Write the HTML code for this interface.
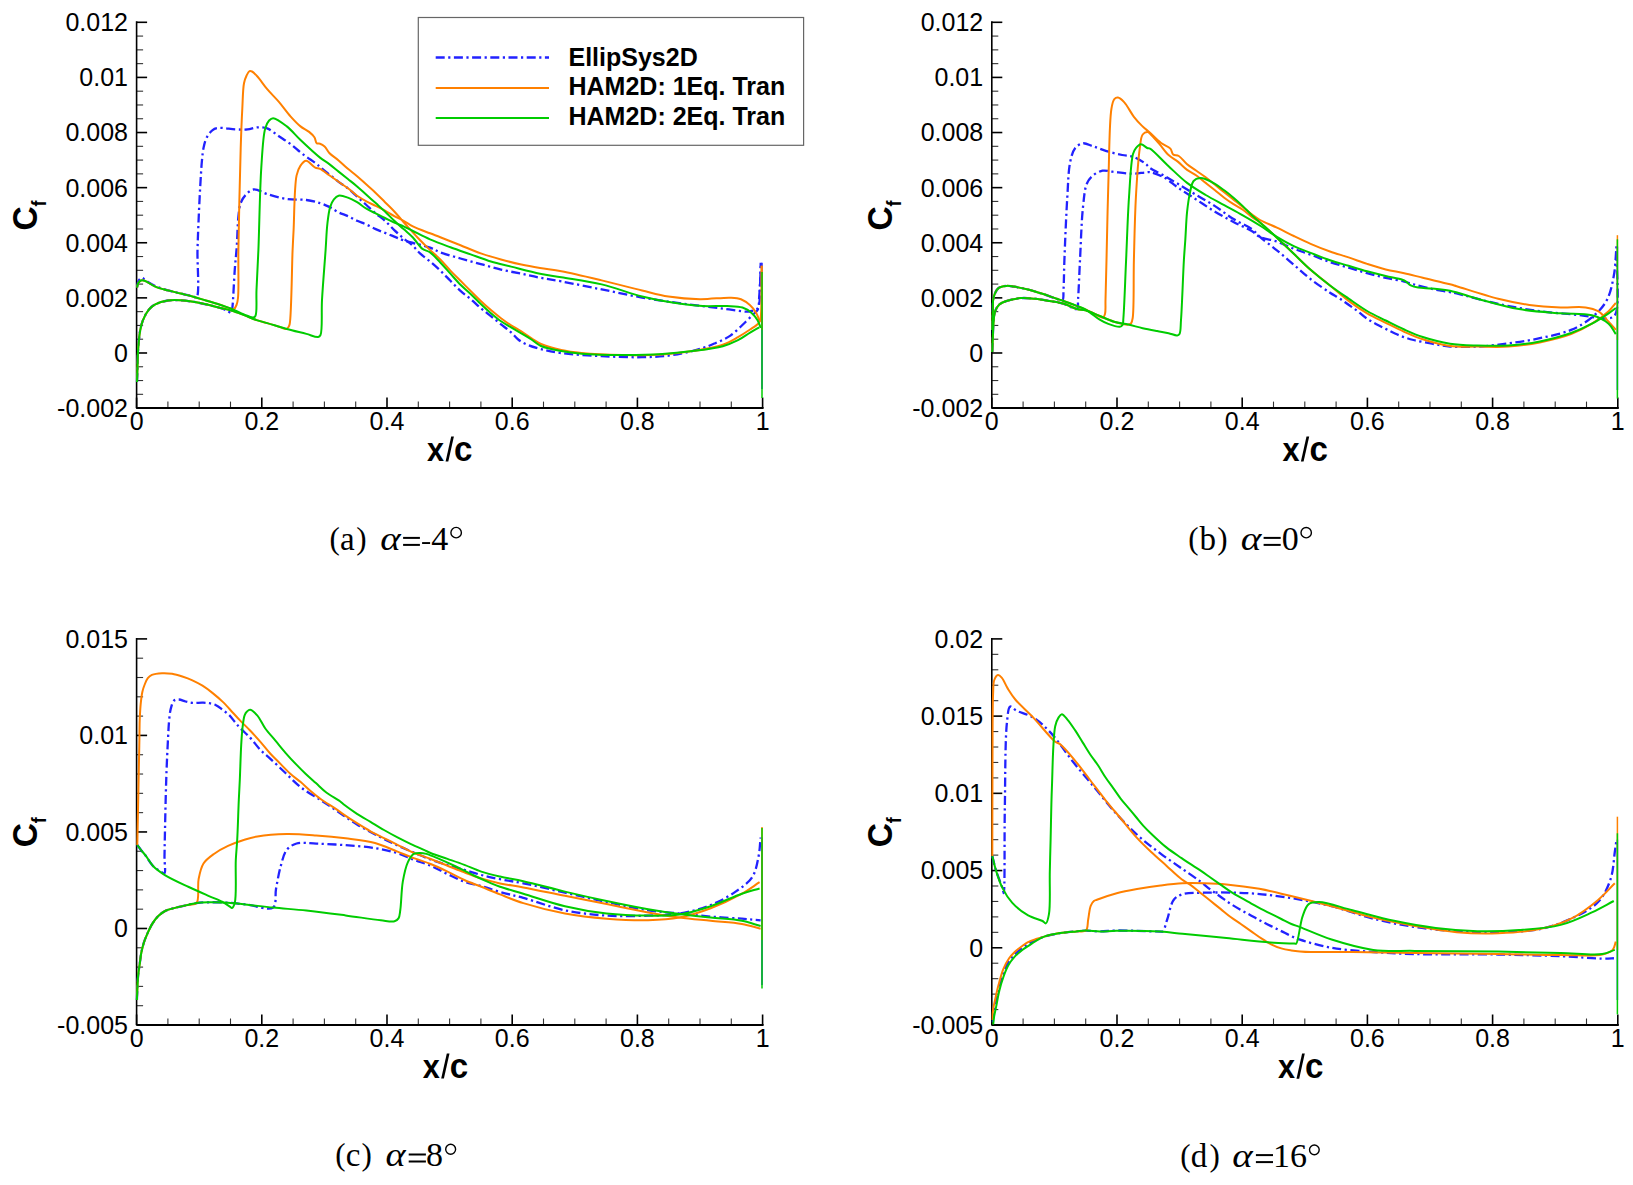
<!DOCTYPE html>
<html><head><meta charset="utf-8"><style>
html,body{margin:0;padding:0;background:#fff;}
svg{display:block;}
.tk{font-family:"Liberation Sans",sans-serif;font-size:25px;fill:#000;}
.lab{font-family:"Liberation Sans",sans-serif;font-weight:bold;font-size:34px;fill:#000;}
.sub{font-size:19.5px;}
.leg{font-family:"Liberation Sans",sans-serif;font-weight:bold;font-size:25px;fill:#000;}
.cap{font-family:"Liberation Serif",serif;font-size:33px;fill:#000;}
.it{font-style:italic;}
</style></head><body>
<svg width="1633" height="1185" viewBox="0 0 1633 1185">
<rect width="1633" height="1185" fill="#fff"/>
<line x1="136.60" y1="408.10" x2="147.10" y2="408.10" stroke="#000" stroke-width="1.6"/>
<line x1="136.60" y1="394.32" x2="143.10" y2="394.32" stroke="#333" stroke-width="1.1"/>
<line x1="136.60" y1="380.54" x2="143.10" y2="380.54" stroke="#333" stroke-width="1.1"/>
<line x1="136.60" y1="366.76" x2="143.10" y2="366.76" stroke="#333" stroke-width="1.1"/>
<line x1="136.60" y1="352.99" x2="147.10" y2="352.99" stroke="#000" stroke-width="1.6"/>
<line x1="136.60" y1="339.21" x2="143.10" y2="339.21" stroke="#333" stroke-width="1.1"/>
<line x1="136.60" y1="325.43" x2="143.10" y2="325.43" stroke="#333" stroke-width="1.1"/>
<line x1="136.60" y1="311.65" x2="143.10" y2="311.65" stroke="#333" stroke-width="1.1"/>
<line x1="136.60" y1="297.87" x2="147.10" y2="297.87" stroke="#000" stroke-width="1.6"/>
<line x1="136.60" y1="284.09" x2="143.10" y2="284.09" stroke="#333" stroke-width="1.1"/>
<line x1="136.60" y1="270.31" x2="143.10" y2="270.31" stroke="#333" stroke-width="1.1"/>
<line x1="136.60" y1="256.54" x2="143.10" y2="256.54" stroke="#333" stroke-width="1.1"/>
<line x1="136.60" y1="242.76" x2="147.10" y2="242.76" stroke="#000" stroke-width="1.6"/>
<line x1="136.60" y1="228.98" x2="143.10" y2="228.98" stroke="#333" stroke-width="1.1"/>
<line x1="136.60" y1="215.20" x2="143.10" y2="215.20" stroke="#333" stroke-width="1.1"/>
<line x1="136.60" y1="201.42" x2="143.10" y2="201.42" stroke="#333" stroke-width="1.1"/>
<line x1="136.60" y1="187.64" x2="147.10" y2="187.64" stroke="#000" stroke-width="1.6"/>
<line x1="136.60" y1="173.86" x2="143.10" y2="173.86" stroke="#333" stroke-width="1.1"/>
<line x1="136.60" y1="160.09" x2="143.10" y2="160.09" stroke="#333" stroke-width="1.1"/>
<line x1="136.60" y1="146.31" x2="143.10" y2="146.31" stroke="#333" stroke-width="1.1"/>
<line x1="136.60" y1="132.53" x2="147.10" y2="132.53" stroke="#000" stroke-width="1.6"/>
<line x1="136.60" y1="118.75" x2="143.10" y2="118.75" stroke="#333" stroke-width="1.1"/>
<line x1="136.60" y1="104.97" x2="143.10" y2="104.97" stroke="#333" stroke-width="1.1"/>
<line x1="136.60" y1="91.19" x2="143.10" y2="91.19" stroke="#333" stroke-width="1.1"/>
<line x1="136.60" y1="77.41" x2="147.10" y2="77.41" stroke="#000" stroke-width="1.6"/>
<line x1="136.60" y1="63.64" x2="143.10" y2="63.64" stroke="#333" stroke-width="1.1"/>
<line x1="136.60" y1="49.86" x2="143.10" y2="49.86" stroke="#333" stroke-width="1.1"/>
<line x1="136.60" y1="36.08" x2="143.10" y2="36.08" stroke="#333" stroke-width="1.1"/>
<line x1="136.60" y1="22.30" x2="147.10" y2="22.30" stroke="#000" stroke-width="1.6"/>
<text x="128.00" y="31.20" class="tk" text-anchor="end">0.012</text>
<text x="128.00" y="86.31" class="tk" text-anchor="end">0.01</text>
<text x="128.00" y="141.43" class="tk" text-anchor="end">0.008</text>
<text x="128.00" y="196.54" class="tk" text-anchor="end">0.006</text>
<text x="128.00" y="251.66" class="tk" text-anchor="end">0.004</text>
<text x="128.00" y="306.77" class="tk" text-anchor="end">0.002</text>
<text x="128.00" y="361.89" class="tk" text-anchor="end">0</text>
<text x="128.00" y="417.00" class="tk" text-anchor="end">-0.002</text>
<line x1="136.60" y1="408.10" x2="136.60" y2="397.60" stroke="#000" stroke-width="1.6"/>
<line x1="167.90" y1="408.10" x2="167.90" y2="401.60" stroke="#333" stroke-width="1.1"/>
<line x1="199.20" y1="408.10" x2="199.20" y2="401.60" stroke="#333" stroke-width="1.1"/>
<line x1="230.50" y1="408.10" x2="230.50" y2="401.60" stroke="#333" stroke-width="1.1"/>
<line x1="261.80" y1="408.10" x2="261.80" y2="397.60" stroke="#000" stroke-width="1.6"/>
<line x1="293.10" y1="408.10" x2="293.10" y2="401.60" stroke="#333" stroke-width="1.1"/>
<line x1="324.40" y1="408.10" x2="324.40" y2="401.60" stroke="#333" stroke-width="1.1"/>
<line x1="355.70" y1="408.10" x2="355.70" y2="401.60" stroke="#333" stroke-width="1.1"/>
<line x1="387.00" y1="408.10" x2="387.00" y2="397.60" stroke="#000" stroke-width="1.6"/>
<line x1="418.30" y1="408.10" x2="418.30" y2="401.60" stroke="#333" stroke-width="1.1"/>
<line x1="449.60" y1="408.10" x2="449.60" y2="401.60" stroke="#333" stroke-width="1.1"/>
<line x1="480.90" y1="408.10" x2="480.90" y2="401.60" stroke="#333" stroke-width="1.1"/>
<line x1="512.20" y1="408.10" x2="512.20" y2="397.60" stroke="#000" stroke-width="1.6"/>
<line x1="543.50" y1="408.10" x2="543.50" y2="401.60" stroke="#333" stroke-width="1.1"/>
<line x1="574.80" y1="408.10" x2="574.80" y2="401.60" stroke="#333" stroke-width="1.1"/>
<line x1="606.10" y1="408.10" x2="606.10" y2="401.60" stroke="#333" stroke-width="1.1"/>
<line x1="637.40" y1="408.10" x2="637.40" y2="397.60" stroke="#000" stroke-width="1.6"/>
<line x1="668.70" y1="408.10" x2="668.70" y2="401.60" stroke="#333" stroke-width="1.1"/>
<line x1="700.00" y1="408.10" x2="700.00" y2="401.60" stroke="#333" stroke-width="1.1"/>
<line x1="731.30" y1="408.10" x2="731.30" y2="401.60" stroke="#333" stroke-width="1.1"/>
<line x1="762.60" y1="408.10" x2="762.60" y2="397.60" stroke="#000" stroke-width="1.6"/>
<text x="136.60" y="430.00" class="tk" text-anchor="middle">0</text>
<text x="261.80" y="430.00" class="tk" text-anchor="middle">0.2</text>
<text x="387.00" y="430.00" class="tk" text-anchor="middle">0.4</text>
<text x="512.20" y="430.00" class="tk" text-anchor="middle">0.6</text>
<text x="637.40" y="430.00" class="tk" text-anchor="middle">0.8</text>
<text x="762.60" y="430.00" class="tk" text-anchor="middle">1</text>
<path d="M136.60 21.30 L136.60 408.10 L762.60 408.10" fill="none" stroke="#000" stroke-width="1.6" stroke-linejoin="round"/>
<line x1="137.10" y1="408.10" x2="763.60" y2="408.10" stroke="#000" stroke-width="2.0"/>
<text transform="translate(427.09 460.60) scale(0.900 1)" class="lab" style="font-size:34px">x</text>
<path d="M445.60 461.50 L448.30 461.50 L453.90 436.40 L451.20 436.40 Z" fill="#000"/>
<text transform="translate(454.11 460.90) scale(0.935 1)" class="lab" style="font-size:35.5px">c</text>
<g transform="translate(37.0 215.50) rotate(-90) scale(0.93 1)"><text x="0" y="0" class="lab" style="font-size:36px" text-anchor="middle"><tspan>C</tspan><tspan class="sub" dy="8.6">f</tspan></text></g>
<text x="329.44" y="548.60" class="cap" style="font-size:31px">(</text>
<text x="339.95" y="549.80" class="cap">a</text>
<text x="356.14" y="548.60" class="cap" style="font-size:31px">)</text>
<text transform="translate(380.13 549.80) scale(1.178 1)" class="cap it">&#945;</text>
<rect x="403.10" y="536.90" width="16.80" height="2.0" fill="#000"/>
<rect x="403.10" y="543.90" width="16.80" height="2.0" fill="#000"/>
<rect x="422.10" y="542.10" width="8.00" height="1.9" fill="#000"/>
<text x="431.33" y="549.80" class="cap" style="font-size:34px">4</text>
<circle cx="456.15" cy="532.65" r="5.25" fill="none" stroke="#000" stroke-width="1.4"/>
<line x1="991.80" y1="408.10" x2="1002.30" y2="408.10" stroke="#000" stroke-width="1.6"/>
<line x1="991.80" y1="394.32" x2="998.30" y2="394.32" stroke="#333" stroke-width="1.1"/>
<line x1="991.80" y1="380.54" x2="998.30" y2="380.54" stroke="#333" stroke-width="1.1"/>
<line x1="991.80" y1="366.76" x2="998.30" y2="366.76" stroke="#333" stroke-width="1.1"/>
<line x1="991.80" y1="352.99" x2="1002.30" y2="352.99" stroke="#000" stroke-width="1.6"/>
<line x1="991.80" y1="339.21" x2="998.30" y2="339.21" stroke="#333" stroke-width="1.1"/>
<line x1="991.80" y1="325.43" x2="998.30" y2="325.43" stroke="#333" stroke-width="1.1"/>
<line x1="991.80" y1="311.65" x2="998.30" y2="311.65" stroke="#333" stroke-width="1.1"/>
<line x1="991.80" y1="297.87" x2="1002.30" y2="297.87" stroke="#000" stroke-width="1.6"/>
<line x1="991.80" y1="284.09" x2="998.30" y2="284.09" stroke="#333" stroke-width="1.1"/>
<line x1="991.80" y1="270.31" x2="998.30" y2="270.31" stroke="#333" stroke-width="1.1"/>
<line x1="991.80" y1="256.54" x2="998.30" y2="256.54" stroke="#333" stroke-width="1.1"/>
<line x1="991.80" y1="242.76" x2="1002.30" y2="242.76" stroke="#000" stroke-width="1.6"/>
<line x1="991.80" y1="228.98" x2="998.30" y2="228.98" stroke="#333" stroke-width="1.1"/>
<line x1="991.80" y1="215.20" x2="998.30" y2="215.20" stroke="#333" stroke-width="1.1"/>
<line x1="991.80" y1="201.42" x2="998.30" y2="201.42" stroke="#333" stroke-width="1.1"/>
<line x1="991.80" y1="187.64" x2="1002.30" y2="187.64" stroke="#000" stroke-width="1.6"/>
<line x1="991.80" y1="173.86" x2="998.30" y2="173.86" stroke="#333" stroke-width="1.1"/>
<line x1="991.80" y1="160.09" x2="998.30" y2="160.09" stroke="#333" stroke-width="1.1"/>
<line x1="991.80" y1="146.31" x2="998.30" y2="146.31" stroke="#333" stroke-width="1.1"/>
<line x1="991.80" y1="132.53" x2="1002.30" y2="132.53" stroke="#000" stroke-width="1.6"/>
<line x1="991.80" y1="118.75" x2="998.30" y2="118.75" stroke="#333" stroke-width="1.1"/>
<line x1="991.80" y1="104.97" x2="998.30" y2="104.97" stroke="#333" stroke-width="1.1"/>
<line x1="991.80" y1="91.19" x2="998.30" y2="91.19" stroke="#333" stroke-width="1.1"/>
<line x1="991.80" y1="77.41" x2="1002.30" y2="77.41" stroke="#000" stroke-width="1.6"/>
<line x1="991.80" y1="63.64" x2="998.30" y2="63.64" stroke="#333" stroke-width="1.1"/>
<line x1="991.80" y1="49.86" x2="998.30" y2="49.86" stroke="#333" stroke-width="1.1"/>
<line x1="991.80" y1="36.08" x2="998.30" y2="36.08" stroke="#333" stroke-width="1.1"/>
<line x1="991.80" y1="22.30" x2="1002.30" y2="22.30" stroke="#000" stroke-width="1.6"/>
<text x="983.20" y="31.20" class="tk" text-anchor="end">0.012</text>
<text x="983.20" y="86.31" class="tk" text-anchor="end">0.01</text>
<text x="983.20" y="141.43" class="tk" text-anchor="end">0.008</text>
<text x="983.20" y="196.54" class="tk" text-anchor="end">0.006</text>
<text x="983.20" y="251.66" class="tk" text-anchor="end">0.004</text>
<text x="983.20" y="306.77" class="tk" text-anchor="end">0.002</text>
<text x="983.20" y="361.89" class="tk" text-anchor="end">0</text>
<text x="983.20" y="417.00" class="tk" text-anchor="end">-0.002</text>
<line x1="991.80" y1="408.10" x2="991.80" y2="397.60" stroke="#000" stroke-width="1.6"/>
<line x1="1023.10" y1="408.10" x2="1023.10" y2="401.60" stroke="#333" stroke-width="1.1"/>
<line x1="1054.40" y1="408.10" x2="1054.40" y2="401.60" stroke="#333" stroke-width="1.1"/>
<line x1="1085.70" y1="408.10" x2="1085.70" y2="401.60" stroke="#333" stroke-width="1.1"/>
<line x1="1117.00" y1="408.10" x2="1117.00" y2="397.60" stroke="#000" stroke-width="1.6"/>
<line x1="1148.30" y1="408.10" x2="1148.30" y2="401.60" stroke="#333" stroke-width="1.1"/>
<line x1="1179.60" y1="408.10" x2="1179.60" y2="401.60" stroke="#333" stroke-width="1.1"/>
<line x1="1210.90" y1="408.10" x2="1210.90" y2="401.60" stroke="#333" stroke-width="1.1"/>
<line x1="1242.20" y1="408.10" x2="1242.20" y2="397.60" stroke="#000" stroke-width="1.6"/>
<line x1="1273.50" y1="408.10" x2="1273.50" y2="401.60" stroke="#333" stroke-width="1.1"/>
<line x1="1304.80" y1="408.10" x2="1304.80" y2="401.60" stroke="#333" stroke-width="1.1"/>
<line x1="1336.10" y1="408.10" x2="1336.10" y2="401.60" stroke="#333" stroke-width="1.1"/>
<line x1="1367.40" y1="408.10" x2="1367.40" y2="397.60" stroke="#000" stroke-width="1.6"/>
<line x1="1398.70" y1="408.10" x2="1398.70" y2="401.60" stroke="#333" stroke-width="1.1"/>
<line x1="1430.00" y1="408.10" x2="1430.00" y2="401.60" stroke="#333" stroke-width="1.1"/>
<line x1="1461.30" y1="408.10" x2="1461.30" y2="401.60" stroke="#333" stroke-width="1.1"/>
<line x1="1492.60" y1="408.10" x2="1492.60" y2="397.60" stroke="#000" stroke-width="1.6"/>
<line x1="1523.90" y1="408.10" x2="1523.90" y2="401.60" stroke="#333" stroke-width="1.1"/>
<line x1="1555.20" y1="408.10" x2="1555.20" y2="401.60" stroke="#333" stroke-width="1.1"/>
<line x1="1586.50" y1="408.10" x2="1586.50" y2="401.60" stroke="#333" stroke-width="1.1"/>
<line x1="1617.80" y1="408.10" x2="1617.80" y2="397.60" stroke="#000" stroke-width="1.6"/>
<text x="991.80" y="430.00" class="tk" text-anchor="middle">0</text>
<text x="1117.00" y="430.00" class="tk" text-anchor="middle">0.2</text>
<text x="1242.20" y="430.00" class="tk" text-anchor="middle">0.4</text>
<text x="1367.40" y="430.00" class="tk" text-anchor="middle">0.6</text>
<text x="1492.60" y="430.00" class="tk" text-anchor="middle">0.8</text>
<text x="1617.80" y="430.00" class="tk" text-anchor="middle">1</text>
<path d="M991.80 21.30 L991.80 408.10 L1617.80 408.10" fill="none" stroke="#000" stroke-width="1.6" stroke-linejoin="round"/>
<line x1="992.30" y1="408.10" x2="1618.80" y2="408.10" stroke="#000" stroke-width="2.0"/>
<text transform="translate(1282.39 460.60) scale(0.900 1)" class="lab" style="font-size:34px">x</text>
<path d="M1300.90 461.50 L1303.60 461.50 L1309.20 436.40 L1306.50 436.40 Z" fill="#000"/>
<text transform="translate(1309.41 460.90) scale(0.935 1)" class="lab" style="font-size:35.5px">c</text>
<g transform="translate(892.20 215.50) rotate(-90) scale(0.93 1)"><text x="0" y="0" class="lab" style="font-size:36px" text-anchor="middle"><tspan>C</tspan><tspan class="sub" dy="8.6">f</tspan></text></g>
<text x="1188.24" y="548.60" class="cap" style="font-size:31px">(</text>
<text x="1199.40" y="549.80" class="cap">b</text>
<text x="1217.34" y="548.60" class="cap" style="font-size:31px">)</text>
<text transform="translate(1240.82 549.80) scale(1.190 1)" class="cap it">&#945;</text>
<rect x="1263.60" y="536.90" width="17.10" height="2.0" fill="#000"/>
<rect x="1263.60" y="543.90" width="17.10" height="2.0" fill="#000"/>
<text x="1281.80" y="549.80" class="cap" style="font-size:34px">0</text>
<circle cx="1306.20" cy="532.65" r="5.20" fill="none" stroke="#000" stroke-width="1.4"/>
<line x1="136.60" y1="1025.00" x2="147.10" y2="1025.00" stroke="#000" stroke-width="1.6"/>
<line x1="136.60" y1="1005.70" x2="143.10" y2="1005.70" stroke="#333" stroke-width="1.1"/>
<line x1="136.60" y1="986.39" x2="143.10" y2="986.39" stroke="#333" stroke-width="1.1"/>
<line x1="136.60" y1="967.09" x2="143.10" y2="967.09" stroke="#333" stroke-width="1.1"/>
<line x1="136.60" y1="947.78" x2="143.10" y2="947.78" stroke="#333" stroke-width="1.1"/>
<line x1="136.60" y1="928.48" x2="147.10" y2="928.48" stroke="#000" stroke-width="1.6"/>
<line x1="136.60" y1="909.17" x2="143.10" y2="909.17" stroke="#333" stroke-width="1.1"/>
<line x1="136.60" y1="889.87" x2="143.10" y2="889.87" stroke="#333" stroke-width="1.1"/>
<line x1="136.60" y1="870.56" x2="143.10" y2="870.56" stroke="#333" stroke-width="1.1"/>
<line x1="136.60" y1="851.25" x2="143.10" y2="851.25" stroke="#333" stroke-width="1.1"/>
<line x1="136.60" y1="831.95" x2="147.10" y2="831.95" stroke="#000" stroke-width="1.6"/>
<line x1="136.60" y1="812.64" x2="143.10" y2="812.64" stroke="#333" stroke-width="1.1"/>
<line x1="136.60" y1="793.34" x2="143.10" y2="793.34" stroke="#333" stroke-width="1.1"/>
<line x1="136.60" y1="774.03" x2="143.10" y2="774.03" stroke="#333" stroke-width="1.1"/>
<line x1="136.60" y1="754.73" x2="143.10" y2="754.73" stroke="#333" stroke-width="1.1"/>
<line x1="136.60" y1="735.42" x2="147.10" y2="735.42" stroke="#000" stroke-width="1.6"/>
<line x1="136.60" y1="716.12" x2="143.10" y2="716.12" stroke="#333" stroke-width="1.1"/>
<line x1="136.60" y1="696.81" x2="143.10" y2="696.81" stroke="#333" stroke-width="1.1"/>
<line x1="136.60" y1="677.51" x2="143.10" y2="677.51" stroke="#333" stroke-width="1.1"/>
<line x1="136.60" y1="658.20" x2="143.10" y2="658.20" stroke="#333" stroke-width="1.1"/>
<line x1="136.60" y1="638.90" x2="147.10" y2="638.90" stroke="#000" stroke-width="1.6"/>
<text x="128.00" y="647.80" class="tk" text-anchor="end">0.015</text>
<text x="128.00" y="744.32" class="tk" text-anchor="end">0.01</text>
<text x="128.00" y="840.85" class="tk" text-anchor="end">0.005</text>
<text x="128.00" y="937.38" class="tk" text-anchor="end">0</text>
<text x="128.00" y="1033.90" class="tk" text-anchor="end">-0.005</text>
<line x1="136.60" y1="1025.00" x2="136.60" y2="1014.50" stroke="#000" stroke-width="1.6"/>
<line x1="167.90" y1="1025.00" x2="167.90" y2="1018.50" stroke="#333" stroke-width="1.1"/>
<line x1="199.20" y1="1025.00" x2="199.20" y2="1018.50" stroke="#333" stroke-width="1.1"/>
<line x1="230.50" y1="1025.00" x2="230.50" y2="1018.50" stroke="#333" stroke-width="1.1"/>
<line x1="261.80" y1="1025.00" x2="261.80" y2="1014.50" stroke="#000" stroke-width="1.6"/>
<line x1="293.10" y1="1025.00" x2="293.10" y2="1018.50" stroke="#333" stroke-width="1.1"/>
<line x1="324.40" y1="1025.00" x2="324.40" y2="1018.50" stroke="#333" stroke-width="1.1"/>
<line x1="355.70" y1="1025.00" x2="355.70" y2="1018.50" stroke="#333" stroke-width="1.1"/>
<line x1="387.00" y1="1025.00" x2="387.00" y2="1014.50" stroke="#000" stroke-width="1.6"/>
<line x1="418.30" y1="1025.00" x2="418.30" y2="1018.50" stroke="#333" stroke-width="1.1"/>
<line x1="449.60" y1="1025.00" x2="449.60" y2="1018.50" stroke="#333" stroke-width="1.1"/>
<line x1="480.90" y1="1025.00" x2="480.90" y2="1018.50" stroke="#333" stroke-width="1.1"/>
<line x1="512.20" y1="1025.00" x2="512.20" y2="1014.50" stroke="#000" stroke-width="1.6"/>
<line x1="543.50" y1="1025.00" x2="543.50" y2="1018.50" stroke="#333" stroke-width="1.1"/>
<line x1="574.80" y1="1025.00" x2="574.80" y2="1018.50" stroke="#333" stroke-width="1.1"/>
<line x1="606.10" y1="1025.00" x2="606.10" y2="1018.50" stroke="#333" stroke-width="1.1"/>
<line x1="637.40" y1="1025.00" x2="637.40" y2="1014.50" stroke="#000" stroke-width="1.6"/>
<line x1="668.70" y1="1025.00" x2="668.70" y2="1018.50" stroke="#333" stroke-width="1.1"/>
<line x1="700.00" y1="1025.00" x2="700.00" y2="1018.50" stroke="#333" stroke-width="1.1"/>
<line x1="731.30" y1="1025.00" x2="731.30" y2="1018.50" stroke="#333" stroke-width="1.1"/>
<line x1="762.60" y1="1025.00" x2="762.60" y2="1014.50" stroke="#000" stroke-width="1.6"/>
<text x="136.60" y="1046.90" class="tk" text-anchor="middle">0</text>
<text x="261.80" y="1046.90" class="tk" text-anchor="middle">0.2</text>
<text x="387.00" y="1046.90" class="tk" text-anchor="middle">0.4</text>
<text x="512.20" y="1046.90" class="tk" text-anchor="middle">0.6</text>
<text x="637.40" y="1046.90" class="tk" text-anchor="middle">0.8</text>
<text x="762.60" y="1046.90" class="tk" text-anchor="middle">1</text>
<path d="M136.60 637.90 L136.60 1025.00 L762.60 1025.00" fill="none" stroke="#000" stroke-width="1.6" stroke-linejoin="round"/>
<line x1="137.10" y1="1025.00" x2="763.60" y2="1025.00" stroke="#000" stroke-width="2.0"/>
<text transform="translate(422.69 1077.60) scale(0.900 1)" class="lab" style="font-size:34px">x</text>
<path d="M441.20 1078.50 L443.90 1078.50 L449.50 1053.40 L446.80 1053.40 Z" fill="#000"/>
<text transform="translate(449.71 1077.90) scale(0.935 1)" class="lab" style="font-size:35.5px">c</text>
<g transform="translate(37.0 832.25) rotate(-90) scale(0.93 1)"><text x="0" y="0" class="lab" style="font-size:36px" text-anchor="middle"><tspan>C</tspan><tspan class="sub" dy="8.6">f</tspan></text></g>
<text x="335.34" y="1165.20" class="cap" style="font-size:31px">(</text>
<text x="345.75" y="1166.40" class="cap">c</text>
<text x="361.54" y="1165.20" class="cap" style="font-size:31px">)</text>
<text transform="translate(385.55 1166.40) scale(1.160 1)" class="cap it">&#945;</text>
<rect x="408.70" y="1153.50" width="17.20" height="2.0" fill="#000"/>
<rect x="408.70" y="1160.50" width="17.20" height="2.0" fill="#000"/>
<text x="425.95" y="1166.40" class="cap" style="font-size:34px">8</text>
<circle cx="450.65" cy="1149.25" r="4.95" fill="none" stroke="#000" stroke-width="1.4"/>
<line x1="991.80" y1="1025.00" x2="1002.30" y2="1025.00" stroke="#000" stroke-width="1.6"/>
<line x1="991.80" y1="1009.56" x2="998.30" y2="1009.56" stroke="#333" stroke-width="1.1"/>
<line x1="991.80" y1="994.11" x2="998.30" y2="994.11" stroke="#333" stroke-width="1.1"/>
<line x1="991.80" y1="978.67" x2="998.30" y2="978.67" stroke="#333" stroke-width="1.1"/>
<line x1="991.80" y1="963.22" x2="998.30" y2="963.22" stroke="#333" stroke-width="1.1"/>
<line x1="991.80" y1="947.78" x2="1002.30" y2="947.78" stroke="#000" stroke-width="1.6"/>
<line x1="991.80" y1="932.34" x2="998.30" y2="932.34" stroke="#333" stroke-width="1.1"/>
<line x1="991.80" y1="916.89" x2="998.30" y2="916.89" stroke="#333" stroke-width="1.1"/>
<line x1="991.80" y1="901.45" x2="998.30" y2="901.45" stroke="#333" stroke-width="1.1"/>
<line x1="991.80" y1="886.00" x2="998.30" y2="886.00" stroke="#333" stroke-width="1.1"/>
<line x1="991.80" y1="870.56" x2="1002.30" y2="870.56" stroke="#000" stroke-width="1.6"/>
<line x1="991.80" y1="855.12" x2="998.30" y2="855.12" stroke="#333" stroke-width="1.1"/>
<line x1="991.80" y1="839.67" x2="998.30" y2="839.67" stroke="#333" stroke-width="1.1"/>
<line x1="991.80" y1="824.23" x2="998.30" y2="824.23" stroke="#333" stroke-width="1.1"/>
<line x1="991.80" y1="808.78" x2="998.30" y2="808.78" stroke="#333" stroke-width="1.1"/>
<line x1="991.80" y1="793.34" x2="1002.30" y2="793.34" stroke="#000" stroke-width="1.6"/>
<line x1="991.80" y1="777.90" x2="998.30" y2="777.90" stroke="#333" stroke-width="1.1"/>
<line x1="991.80" y1="762.45" x2="998.30" y2="762.45" stroke="#333" stroke-width="1.1"/>
<line x1="991.80" y1="747.01" x2="998.30" y2="747.01" stroke="#333" stroke-width="1.1"/>
<line x1="991.80" y1="731.56" x2="998.30" y2="731.56" stroke="#333" stroke-width="1.1"/>
<line x1="991.80" y1="716.12" x2="1002.30" y2="716.12" stroke="#000" stroke-width="1.6"/>
<line x1="991.80" y1="700.68" x2="998.30" y2="700.68" stroke="#333" stroke-width="1.1"/>
<line x1="991.80" y1="685.23" x2="998.30" y2="685.23" stroke="#333" stroke-width="1.1"/>
<line x1="991.80" y1="669.79" x2="998.30" y2="669.79" stroke="#333" stroke-width="1.1"/>
<line x1="991.80" y1="654.34" x2="998.30" y2="654.34" stroke="#333" stroke-width="1.1"/>
<line x1="991.80" y1="638.90" x2="1002.30" y2="638.90" stroke="#000" stroke-width="1.6"/>
<text x="983.20" y="647.80" class="tk" text-anchor="end">0.02</text>
<text x="983.20" y="725.02" class="tk" text-anchor="end">0.015</text>
<text x="983.20" y="802.24" class="tk" text-anchor="end">0.01</text>
<text x="983.20" y="879.46" class="tk" text-anchor="end">0.005</text>
<text x="983.20" y="956.68" class="tk" text-anchor="end">0</text>
<text x="983.20" y="1033.90" class="tk" text-anchor="end">-0.005</text>
<line x1="991.80" y1="1025.00" x2="991.80" y2="1014.50" stroke="#000" stroke-width="1.6"/>
<line x1="1023.10" y1="1025.00" x2="1023.10" y2="1018.50" stroke="#333" stroke-width="1.1"/>
<line x1="1054.40" y1="1025.00" x2="1054.40" y2="1018.50" stroke="#333" stroke-width="1.1"/>
<line x1="1085.70" y1="1025.00" x2="1085.70" y2="1018.50" stroke="#333" stroke-width="1.1"/>
<line x1="1117.00" y1="1025.00" x2="1117.00" y2="1014.50" stroke="#000" stroke-width="1.6"/>
<line x1="1148.30" y1="1025.00" x2="1148.30" y2="1018.50" stroke="#333" stroke-width="1.1"/>
<line x1="1179.60" y1="1025.00" x2="1179.60" y2="1018.50" stroke="#333" stroke-width="1.1"/>
<line x1="1210.90" y1="1025.00" x2="1210.90" y2="1018.50" stroke="#333" stroke-width="1.1"/>
<line x1="1242.20" y1="1025.00" x2="1242.20" y2="1014.50" stroke="#000" stroke-width="1.6"/>
<line x1="1273.50" y1="1025.00" x2="1273.50" y2="1018.50" stroke="#333" stroke-width="1.1"/>
<line x1="1304.80" y1="1025.00" x2="1304.80" y2="1018.50" stroke="#333" stroke-width="1.1"/>
<line x1="1336.10" y1="1025.00" x2="1336.10" y2="1018.50" stroke="#333" stroke-width="1.1"/>
<line x1="1367.40" y1="1025.00" x2="1367.40" y2="1014.50" stroke="#000" stroke-width="1.6"/>
<line x1="1398.70" y1="1025.00" x2="1398.70" y2="1018.50" stroke="#333" stroke-width="1.1"/>
<line x1="1430.00" y1="1025.00" x2="1430.00" y2="1018.50" stroke="#333" stroke-width="1.1"/>
<line x1="1461.30" y1="1025.00" x2="1461.30" y2="1018.50" stroke="#333" stroke-width="1.1"/>
<line x1="1492.60" y1="1025.00" x2="1492.60" y2="1014.50" stroke="#000" stroke-width="1.6"/>
<line x1="1523.90" y1="1025.00" x2="1523.90" y2="1018.50" stroke="#333" stroke-width="1.1"/>
<line x1="1555.20" y1="1025.00" x2="1555.20" y2="1018.50" stroke="#333" stroke-width="1.1"/>
<line x1="1586.50" y1="1025.00" x2="1586.50" y2="1018.50" stroke="#333" stroke-width="1.1"/>
<line x1="1617.80" y1="1025.00" x2="1617.80" y2="1014.50" stroke="#000" stroke-width="1.6"/>
<text x="991.80" y="1046.90" class="tk" text-anchor="middle">0</text>
<text x="1117.00" y="1046.90" class="tk" text-anchor="middle">0.2</text>
<text x="1242.20" y="1046.90" class="tk" text-anchor="middle">0.4</text>
<text x="1367.40" y="1046.90" class="tk" text-anchor="middle">0.6</text>
<text x="1492.60" y="1046.90" class="tk" text-anchor="middle">0.8</text>
<text x="1617.80" y="1046.90" class="tk" text-anchor="middle">1</text>
<path d="M991.80 637.90 L991.80 1025.00 L1617.80 1025.00" fill="none" stroke="#000" stroke-width="1.6" stroke-linejoin="round"/>
<line x1="992.30" y1="1025.00" x2="1618.80" y2="1025.00" stroke="#000" stroke-width="2.0"/>
<text transform="translate(1277.99 1077.80) scale(0.900 1)" class="lab" style="font-size:34px">x</text>
<path d="M1296.50 1078.70 L1299.20 1078.70 L1304.80 1053.60 L1302.10 1053.60 Z" fill="#000"/>
<text transform="translate(1305.01 1078.10) scale(0.935 1)" class="lab" style="font-size:35.5px">c</text>
<g transform="translate(892.20 832.25) rotate(-90) scale(0.93 1)"><text x="0" y="0" class="lab" style="font-size:36px" text-anchor="middle"><tspan>C</tspan><tspan class="sub" dy="8.6">f</tspan></text></g>
<text x="1180.14" y="1165.80" class="cap" style="font-size:31px">(</text>
<text x="1190.81" y="1167.00" class="cap">d</text>
<text x="1209.44" y="1165.80" class="cap" style="font-size:31px">)</text>
<text transform="translate(1232.13 1167.00) scale(1.178 1)" class="cap it">&#945;</text>
<rect x="1255.90" y="1154.10" width="17.10" height="2.0" fill="#000"/>
<rect x="1255.90" y="1161.10" width="17.10" height="2.0" fill="#000"/>
<text x="1273.12" y="1167.00" class="cap" style="font-size:34px">1</text>
<text x="1289.93" y="1167.00" class="cap" style="font-size:34px">6</text>
<circle cx="1314.35" cy="1149.85" r="4.85" fill="none" stroke="#000" stroke-width="1.4"/>
<path d="M137.00 287.50 C137.50 285.33 137.53 282.70 138.50 281.00 C139.33 279.56 140.85 277.76 142.00 277.70 C143.02 277.65 143.66 279.10 145.00 280.00 C147.37 281.59 151.60 284.30 155.30 286.00 C159.23 287.81 163.75 289.14 168.00 290.40 C172.18 291.64 176.39 292.48 180.60 293.50 C184.82 294.52 190.45 295.73 193.30 296.50 C194.77 296.89 195.72 298.14 196.60 297.50 C199.88 295.11 197.11 264.02 197.50 250.00 C197.81 238.85 198.16 230.24 198.60 220.00 C199.06 209.26 199.60 197.45 200.20 187.00 C200.74 177.55 201.31 167.19 202.00 160.00 C202.46 155.19 202.71 151.77 203.50 148.00 C204.22 144.54 204.91 141.17 206.40 138.20 C207.86 135.28 210.06 132.00 212.30 130.30 C214.09 128.94 215.65 128.37 218.20 128.00 C222.45 127.37 230.51 129.19 235.80 129.40 C240.12 129.57 243.87 129.78 247.60 129.40 C251.04 129.05 254.12 127.56 257.40 127.40 C260.65 127.24 263.93 127.23 267.20 128.40 C271.10 129.80 274.99 133.59 278.90 136.20 C282.83 138.82 286.85 141.21 290.70 144.10 C294.69 147.09 298.27 150.71 302.40 153.90 C306.75 157.26 313.07 161.28 316.20 163.70 C317.90 165.01 318.45 165.62 320.00 166.90 C322.41 168.89 326.20 171.91 329.30 174.40 C332.40 176.88 335.46 179.46 338.60 181.80 C341.66 184.09 344.88 185.90 347.90 188.30 C351.05 190.81 354.03 193.82 357.10 196.60 C360.19 199.39 363.30 202.20 366.40 205.00 C369.50 207.80 372.56 210.74 375.70 213.40 C378.76 215.99 381.97 218.10 385.00 220.80 C388.18 223.64 391.16 227.13 394.30 230.10 C397.36 232.99 400.46 235.76 403.60 238.40 C406.66 240.98 410.09 243.21 412.90 245.80 C415.52 248.22 417.33 250.92 420.00 253.40 C422.98 256.17 426.76 258.68 430.10 261.50 C433.53 264.40 436.96 267.43 440.30 270.60 C443.73 273.85 447.03 277.41 450.40 280.80 C453.76 284.18 457.05 287.81 460.50 290.90 C463.79 293.85 467.26 296.18 470.60 299.00 C474.03 301.90 477.37 305.20 480.80 308.10 C484.14 310.92 487.53 313.50 490.90 316.20 C494.27 318.90 497.63 321.60 501.00 324.30 C504.37 327.00 508.09 329.71 511.10 332.40 C513.75 334.77 515.48 337.44 518.20 339.50 C521.07 341.68 524.42 343.45 528.00 345.00 C531.95 346.71 536.15 347.86 541.00 349.10 C546.98 350.63 553.34 352.02 561.30 353.10 C572.43 354.60 588.23 355.42 601.70 356.10 C615.16 356.78 629.61 357.46 642.10 357.20 C652.93 356.97 662.36 356.60 672.40 355.10 C682.56 353.58 694.87 350.53 702.70 348.10 C707.85 346.51 710.87 345.12 715.20 343.20 C720.07 341.04 725.55 338.90 730.40 335.60 C735.70 331.99 741.36 325.93 745.50 322.00 C748.51 319.15 750.88 316.62 753.10 314.40 C754.82 312.68 756.64 312.01 757.70 309.80 C759.28 306.52 758.83 301.23 759.30 295.50 C760.01 286.90 760.43 273.97 761.00 263.20" fill="none" stroke="#2222ff" stroke-width="2.30" stroke-linejoin="round" stroke-linecap="butt" stroke-dasharray="9 3.5 2.2 3.5"/>
<path d="M137.00 382.00 C137.10 379.30 137.17 377.35 137.30 373.90 C137.52 367.81 137.65 356.27 138.20 348.60 C138.66 342.17 139.18 335.95 140.10 330.90 C140.80 327.04 141.36 324.18 142.70 320.80 C144.20 317.02 146.59 312.28 149.00 309.40 C150.90 307.13 152.67 305.69 155.30 304.30 C158.66 302.52 163.73 301.16 168.00 300.50 C172.16 299.86 176.40 300.09 180.60 300.30 C184.83 300.52 189.09 301.13 193.30 301.80 C197.52 302.47 201.70 303.36 205.90 304.30 C210.14 305.25 214.71 306.29 218.60 307.50 C222.00 308.56 225.73 309.75 228.00 311.00 C229.46 311.80 230.58 313.78 231.30 313.50 C232.11 313.19 231.97 310.91 232.30 308.40 C233.19 301.49 233.95 280.56 234.80 269.20 C235.46 260.45 236.22 254.20 236.80 246.00 C237.45 236.78 237.52 224.53 238.40 216.60 C239.00 211.15 239.26 206.73 240.70 202.90 C241.88 199.77 243.49 197.22 245.60 195.00 C247.74 192.74 250.37 189.96 253.50 189.50 C257.33 188.94 262.20 192.54 267.20 194.00 C273.12 195.73 280.22 198.00 286.80 199.00 C293.28 199.98 300.49 199.18 306.40 200.00 C311.38 200.69 315.94 201.82 320.00 203.10 C323.44 204.19 326.25 205.39 329.30 206.90 C332.46 208.47 335.44 210.85 338.60 212.40 C341.64 213.89 344.84 214.71 347.90 216.10 C351.01 217.51 353.99 219.39 357.10 220.80 C360.16 222.19 363.33 223.13 366.40 224.50 C369.53 225.89 372.57 227.69 375.70 229.10 C378.78 230.49 381.90 231.65 385.00 232.90 C388.10 234.15 391.20 235.37 394.30 236.60 C397.40 237.83 399.67 238.97 403.60 240.30 C410.11 242.50 423.30 245.25 430.00 247.70 C434.30 249.27 436.23 250.87 440.30 252.40 C445.85 254.49 453.75 256.55 460.50 258.50 C467.25 260.45 474.04 262.25 480.80 264.10 C487.54 265.95 494.23 268.00 501.00 269.60 C507.73 271.19 514.68 272.32 521.30 273.70 C527.67 275.02 533.55 276.45 540.00 277.70 C546.86 279.03 553.08 279.87 561.30 281.40 C572.64 283.51 588.23 286.72 601.70 289.40 C615.17 292.08 628.60 295.13 642.10 297.50 C655.54 299.86 669.01 301.75 682.50 303.60 C695.98 305.45 711.23 307.12 723.00 308.60 C732.10 309.74 743.05 311.72 747.20 311.70 C748.64 311.69 748.93 311.61 750.10 311.30 C752.06 310.79 755.94 310.62 757.70 308.30 C760.64 304.41 759.50 293.10 760.00 285.50 C760.50 277.93 760.47 270.37 760.70 262.80" fill="none" stroke="#2222ff" stroke-width="2.30" stroke-linejoin="round" stroke-linecap="butt" stroke-dasharray="9 3.5 2.2 3.5"/>
<path d="M762.00 262.80 L762.00 389.00" fill="none" stroke="#2222ff" stroke-width="1.50" stroke-linejoin="round" stroke-linecap="butt"/>
<path d="M137.00 287.50 C137.43 286.00 137.56 284.20 138.30 283.00 C138.96 281.93 139.94 280.86 141.00 280.50 C142.05 280.14 143.14 280.36 144.60 280.80 C147.28 281.60 151.49 285.02 155.30 286.60 C159.27 288.25 163.76 289.25 168.00 290.40 C172.19 291.54 176.39 292.45 180.60 293.50 C184.83 294.55 189.09 295.53 193.30 296.70 C197.52 297.87 201.69 299.24 205.90 300.50 C210.12 301.77 214.38 302.94 218.60 304.30 C222.85 305.67 228.61 308.09 231.30 308.70 C232.51 308.97 233.22 309.38 234.00 309.00 C235.03 308.50 235.86 306.58 236.50 305.00 C237.29 303.05 237.62 301.40 238.00 298.00 C238.97 289.18 238.11 268.98 238.40 250.00 C238.83 222.33 239.88 174.02 240.70 148.00 C241.21 131.86 241.67 120.46 242.30 108.80 C242.81 99.39 242.82 89.30 244.00 83.30 C244.67 79.90 245.54 77.66 246.60 75.50 C247.44 73.79 248.40 71.70 249.50 71.20 C250.27 70.85 251.09 71.08 252.00 71.50 C253.56 72.22 255.43 74.35 257.40 76.50 C260.30 79.68 263.69 85.04 267.20 89.20 C270.84 93.51 275.07 97.44 278.90 101.90 C282.91 106.56 286.83 112.29 290.70 116.60 C294.02 120.30 297.19 123.74 300.50 126.40 C303.34 128.68 306.67 129.94 309.10 131.90 C311.18 133.58 313.12 135.22 314.40 137.20 C315.59 139.05 315.48 142.34 316.70 143.30 C317.57 143.98 318.85 143.30 320.00 143.70 C321.46 144.21 323.18 145.19 324.60 146.50 C326.33 148.10 327.29 150.90 329.30 153.00 C331.75 155.56 335.54 157.81 338.60 160.40 C341.74 163.06 344.77 166.13 347.90 168.80 C350.94 171.39 354.06 173.61 357.10 176.20 C360.23 178.87 363.30 181.81 366.40 184.60 C369.50 187.38 372.64 190.01 375.70 192.90 C378.84 195.87 381.90 199.10 385.00 202.20 C388.10 205.30 391.52 208.53 394.30 211.50 C396.71 214.07 398.56 216.36 400.80 218.90 C403.19 221.61 405.58 224.38 408.20 227.30 C411.11 230.55 414.22 234.07 417.50 237.50 C421.00 241.16 424.82 244.95 428.60 248.60 C432.42 252.28 436.62 255.77 440.30 259.50 C443.87 263.11 447.00 267.01 450.40 270.60 C453.73 274.11 457.13 277.41 460.50 280.80 C463.86 284.18 467.22 287.54 470.60 290.90 C473.99 294.27 477.37 297.76 480.80 301.00 C484.14 304.15 487.49 307.20 490.90 310.10 C494.23 312.93 497.59 315.64 501.00 318.20 C504.33 320.70 507.68 323.08 511.10 325.30 C514.45 327.48 517.78 329.17 521.30 331.40 C525.19 333.86 529.81 337.24 533.40 339.50 C536.20 341.26 537.75 342.57 541.00 344.00 C546.04 346.21 554.49 348.58 561.30 350.10 C567.99 351.59 573.59 352.32 581.50 353.10 C592.63 354.20 608.43 354.87 621.90 355.10 C635.36 355.33 649.82 355.29 662.30 354.50 C673.14 353.81 682.55 352.73 692.60 351.10 C702.71 349.46 714.59 347.57 722.80 344.70 C728.89 342.57 733.28 339.75 738.00 337.10 C742.33 334.67 746.48 331.94 750.10 329.50 C753.16 327.43 756.71 325.42 758.40 323.50 C759.45 322.30 759.78 321.96 760.30 320.00 C762.22 312.76 761.10 283.87 761.50 265.80" fill="none" stroke="#ff8000" stroke-width="2.00" stroke-linejoin="round" stroke-linecap="butt"/>
<path d="M137.00 382.00 C137.10 379.30 137.17 377.35 137.30 373.90 C137.52 367.81 137.65 356.27 138.20 348.60 C138.66 342.17 139.18 335.95 140.10 330.90 C140.80 327.04 141.36 324.18 142.70 320.80 C144.20 317.02 146.59 312.28 149.00 309.40 C150.90 307.13 152.67 305.69 155.30 304.30 C158.66 302.52 163.73 301.16 168.00 300.50 C172.16 299.86 176.40 300.09 180.60 300.30 C184.83 300.52 189.09 301.13 193.30 301.80 C197.52 302.47 201.70 303.36 205.90 304.30 C210.14 305.25 214.36 306.45 218.60 307.50 C222.83 308.55 227.11 309.34 231.30 310.60 C235.54 311.87 239.70 313.53 243.90 315.10 C248.14 316.69 252.52 318.72 256.60 320.10 C260.26 321.34 263.51 322.01 267.20 323.10 C271.27 324.30 276.54 325.90 280.00 327.00 C282.38 327.76 284.48 329.27 286.00 329.00 C287.08 328.81 287.88 327.83 288.50 327.00 C289.12 326.17 289.33 325.72 289.70 324.00 C291.45 315.78 291.85 266.87 292.60 250.00 C292.99 241.23 293.16 238.31 293.60 230.00 C294.32 216.28 294.24 186.12 296.60 175.40 C297.64 170.69 298.69 168.13 300.50 165.60 C302.01 163.48 303.98 160.87 306.10 160.80 C308.74 160.71 312.53 166.33 315.20 167.60 C316.96 168.44 318.22 167.99 320.00 168.80 C322.69 170.03 326.20 173.13 329.30 175.30 C332.40 177.47 335.50 179.63 338.60 181.80 C341.70 183.97 344.85 186.01 347.90 188.30 C351.01 190.64 353.95 193.50 357.10 195.70 C360.12 197.81 363.26 199.58 366.40 201.30 C369.47 202.98 372.60 204.35 375.70 205.90 C378.80 207.45 381.93 208.92 385.00 210.60 C388.13 212.31 391.17 214.39 394.30 216.10 C397.37 217.78 400.53 219.10 403.60 220.80 C406.73 222.53 409.25 224.58 412.90 226.40 C417.66 228.78 425.01 231.35 430.00 233.30 C433.86 234.81 436.30 235.64 440.30 237.20 C445.92 239.39 453.76 242.60 460.50 245.30 C467.26 248.00 473.99 251.02 480.80 253.40 C487.49 255.74 494.24 257.63 501.00 259.50 C507.74 261.36 514.65 263.14 521.30 264.60 C527.64 265.99 533.55 267.01 540.00 268.10 C546.86 269.26 553.11 269.76 561.30 271.30 C572.66 273.43 588.25 277.20 601.70 280.40 C615.19 283.60 630.06 287.62 642.10 290.50 C651.79 292.82 659.18 295.06 668.40 296.50 C678.40 298.06 689.56 299.01 700.00 299.20 C710.23 299.38 722.89 297.36 730.40 297.70 C734.86 297.90 737.73 297.95 741.00 299.20 C744.31 300.47 747.52 302.93 750.10 305.30 C752.54 307.53 754.55 310.13 756.20 312.90 C757.86 315.69 758.73 318.97 760.00 322.00" fill="none" stroke="#ff8000" stroke-width="2.00" stroke-linejoin="round" stroke-linecap="butt"/>
<path d="M762.00 265.80 L762.00 330.00" fill="none" stroke="#ff8000" stroke-width="1.50" stroke-linejoin="round" stroke-linecap="butt"/>
<path d="M137.00 287.50 C137.43 286.00 137.56 284.20 138.30 283.00 C138.96 281.93 139.94 280.86 141.00 280.50 C142.05 280.14 143.14 280.36 144.60 280.80 C147.28 281.60 151.49 285.02 155.30 286.60 C159.27 288.25 163.76 289.25 168.00 290.40 C172.19 291.54 176.39 292.45 180.60 293.50 C184.83 294.55 189.09 295.53 193.30 296.70 C197.52 297.87 201.69 299.24 205.90 300.50 C210.12 301.77 214.38 302.94 218.60 304.30 C222.85 305.67 227.11 307.03 231.30 308.70 C235.55 310.39 240.01 312.86 243.90 314.40 C247.15 315.68 250.98 317.73 253.00 317.50 C254.10 317.37 254.77 317.08 255.40 316.00 C257.32 312.71 256.07 299.60 256.50 290.00 C257.03 278.10 257.75 265.72 258.40 250.00 C259.33 227.44 259.79 190.00 261.30 167.60 C262.34 152.11 262.92 136.38 265.20 128.40 C266.28 124.63 267.49 122.22 269.10 120.50 C270.27 119.26 271.37 118.18 273.10 118.20 C276.31 118.23 282.47 123.04 286.80 126.40 C291.47 130.03 295.08 134.84 300.00 139.50 C305.92 145.11 314.48 153.20 320.00 157.60 C323.58 160.45 326.24 161.80 329.30 164.10 C332.44 166.46 335.50 169.11 338.60 171.60 C341.70 174.08 344.81 176.53 347.90 179.00 C350.98 181.46 354.06 183.81 357.10 186.40 C360.23 189.07 363.30 192.01 366.40 194.80 C369.50 197.58 372.60 200.32 375.70 203.10 C378.80 205.89 381.94 208.59 385.00 211.50 C388.14 214.48 391.16 217.83 394.30 220.80 C397.36 223.69 400.50 226.32 403.60 229.10 C406.70 231.89 409.92 234.39 412.90 237.50 C416.10 240.84 418.85 246.07 422.10 248.60 C424.65 250.58 427.43 250.53 430.10 252.40 C433.50 254.78 436.96 259.00 440.30 262.50 C443.73 266.09 447.03 269.98 450.40 273.70 C453.76 277.41 457.05 281.36 460.50 284.80 C463.79 288.07 467.26 290.75 470.60 293.90 C474.03 297.14 477.37 300.75 480.80 304.00 C484.14 307.17 487.49 310.28 490.90 313.20 C494.22 316.04 497.55 318.91 501.00 321.30 C504.29 323.58 507.73 325.29 511.10 327.30 C514.49 329.32 517.91 331.36 521.30 333.40 C524.68 335.43 528.10 337.39 531.40 339.50 C534.67 341.59 537.02 344.22 541.00 346.00 C546.35 348.39 554.50 349.81 561.30 351.10 C568.00 352.37 573.59 353.06 581.50 353.70 C592.64 354.61 608.43 355.03 621.90 355.10 C635.37 355.17 649.81 354.87 662.30 354.10 C673.14 353.43 682.53 352.41 692.60 351.10 C702.70 349.78 714.54 348.47 722.80 346.20 C728.83 344.54 733.32 342.57 738.00 340.20 C742.37 337.99 746.34 334.88 750.10 332.60 C753.33 330.64 756.17 329.07 759.20 327.30" fill="none" stroke="#00cc00" stroke-width="2.00" stroke-linejoin="round" stroke-linecap="butt"/>
<path d="M137.00 382.00 C137.10 379.30 137.17 377.35 137.30 373.90 C137.52 367.81 137.65 356.27 138.20 348.60 C138.66 342.17 139.18 335.95 140.10 330.90 C140.80 327.04 141.36 324.18 142.70 320.80 C144.20 317.02 146.59 312.28 149.00 309.40 C150.90 307.13 152.67 305.69 155.30 304.30 C158.66 302.52 163.73 301.16 168.00 300.50 C172.16 299.86 176.40 300.09 180.60 300.30 C184.83 300.52 189.09 301.13 193.30 301.80 C197.52 302.47 201.70 303.36 205.90 304.30 C210.14 305.25 214.36 306.45 218.60 307.50 C222.83 308.55 227.11 309.34 231.30 310.60 C235.54 311.87 239.70 313.53 243.90 315.10 C248.14 316.69 252.52 318.72 256.60 320.10 C260.26 321.34 263.13 321.91 267.20 323.10 C272.74 324.72 280.25 327.20 286.80 329.00 C293.31 330.79 300.71 332.43 306.40 333.90 C310.80 335.03 315.74 337.52 318.10 337.00 C319.30 336.73 319.85 336.31 320.50 335.00 C322.68 330.60 321.27 312.70 322.00 300.00 C322.87 284.81 324.62 264.03 325.60 250.00 C326.31 239.81 326.49 231.38 327.40 223.60 C328.13 217.38 328.78 211.29 330.20 206.90 C331.20 203.82 332.33 201.34 333.90 199.40 C335.23 197.76 336.64 196.17 338.60 195.70 C341.07 195.11 344.88 196.56 347.90 197.60 C351.05 198.69 354.09 200.41 357.10 202.20 C360.26 204.08 363.23 206.80 366.40 208.70 C369.44 210.52 372.60 211.85 375.70 213.40 C378.80 214.95 381.90 216.47 385.00 218.00 C388.10 219.53 391.17 221.19 394.30 222.60 C397.38 223.99 400.52 225.01 403.60 226.40 C406.73 227.81 409.33 229.24 412.90 231.00 C417.74 233.38 423.99 236.77 430.00 239.40 C436.44 242.22 443.60 244.79 450.40 247.30 C457.13 249.79 463.86 252.04 470.60 254.40 C477.36 256.77 484.10 259.46 490.90 261.50 C497.60 263.51 503.76 264.77 511.10 266.60 C519.87 268.78 531.07 271.85 540.00 273.70 C547.61 275.28 553.08 275.88 561.30 277.30 C572.63 279.25 588.33 281.23 601.70 284.40 C615.26 287.61 629.53 293.36 642.10 296.50 C652.86 299.19 662.27 301.01 672.40 302.60 C682.47 304.17 693.14 305.47 702.70 306.00 C711.23 306.48 719.81 305.65 727.00 306.00 C732.75 306.28 738.15 306.08 742.50 307.50 C746.09 308.67 749.03 310.68 751.60 312.90 C754.06 315.02 756.16 317.77 757.70 320.40 C759.12 322.82 759.70 325.47 760.70 328.00" fill="none" stroke="#00cc00" stroke-width="2.00" stroke-linejoin="round" stroke-linecap="butt"/>
<path d="M762.00 271.90 L762.00 398.00" fill="none" stroke="#00cc00" stroke-width="1.50" stroke-linejoin="round" stroke-linecap="butt"/>
<path d="M992.30 330.00 C992.47 323.67 992.55 316.80 992.80 311.00 C993.01 306.09 992.47 301.41 993.60 297.40 C994.60 293.86 996.22 289.89 998.60 288.00 C1000.69 286.34 1003.91 286.11 1006.50 285.90 C1008.94 285.70 1010.90 286.18 1013.70 286.60 C1017.67 287.19 1023.25 288.31 1028.00 289.50 C1032.82 290.71 1037.63 292.25 1042.40 293.80 C1047.19 295.35 1053.00 297.60 1056.70 298.80 C1059.02 299.55 1061.20 301.30 1062.40 300.50 C1064.00 299.43 1063.20 294.41 1063.50 290.00 C1064.00 282.57 1063.95 271.82 1064.40 260.00 C1065.05 242.89 1066.15 215.13 1067.30 197.20 C1068.16 183.74 1068.27 170.84 1070.20 161.90 C1071.44 156.17 1072.54 151.36 1075.10 148.20 C1077.14 145.67 1080.13 143.69 1083.00 143.30 C1086.01 142.90 1089.28 145.05 1092.80 146.20 C1097.00 147.57 1101.74 149.66 1106.50 151.10 C1111.52 152.62 1117.33 153.98 1122.20 155.00 C1126.37 155.87 1130.11 155.62 1133.90 157.00 C1137.96 158.48 1142.83 161.74 1145.70 163.90 C1147.59 165.33 1148.03 166.57 1150.00 168.00 C1153.21 170.33 1159.29 172.88 1163.90 175.50 C1168.56 178.15 1172.83 180.82 1177.80 183.80 C1183.55 187.25 1190.20 191.28 1196.40 195.00 C1202.60 198.71 1208.88 202.13 1215.00 206.10 C1221.25 210.15 1227.21 215.18 1233.50 219.10 C1239.59 222.89 1247.38 225.83 1252.10 229.30 C1255.50 231.80 1256.79 234.09 1260.00 236.90 C1264.50 240.85 1271.30 245.79 1276.90 250.40 C1282.57 255.06 1288.18 259.92 1293.80 264.70 C1299.42 269.48 1304.68 274.51 1310.60 279.10 C1316.72 283.85 1324.66 289.23 1330.00 292.70 C1333.62 295.05 1336.23 296.31 1339.30 298.30 C1342.44 300.34 1345.51 302.63 1348.60 304.80 C1351.68 306.96 1354.76 309.02 1357.80 311.30 C1360.93 313.64 1363.92 316.51 1367.10 318.70 C1370.13 320.79 1373.27 322.49 1376.40 324.20 C1379.47 325.88 1382.60 327.35 1385.70 328.90 C1388.80 330.45 1391.88 332.10 1395.00 333.50 C1398.05 334.86 1401.10 336.11 1404.20 337.20 C1407.27 338.28 1409.84 339.09 1413.50 340.00 C1418.61 341.27 1425.95 342.61 1432.10 343.70 C1438.11 344.77 1443.38 345.97 1450.00 346.50 C1458.14 347.15 1467.98 347.06 1477.40 346.60 C1487.48 346.10 1498.22 344.80 1508.60 343.40 C1519.02 342.00 1529.44 340.43 1539.80 338.20 C1550.28 335.94 1561.97 333.76 1571.10 329.90 C1579.01 326.56 1585.91 322.40 1591.90 317.40 C1597.62 312.63 1602.89 307.36 1606.50 300.80 C1610.42 293.68 1612.14 284.54 1613.80 275.80 C1615.57 266.53 1615.60 256.33 1616.50 246.60" fill="none" stroke="#2222ff" stroke-width="2.30" stroke-linejoin="round" stroke-linecap="butt" stroke-dasharray="9 3.5 2.2 3.5"/>
<path d="M992.30 352.00 C992.47 347.33 992.60 342.75 992.80 338.00 C993.00 333.09 993.08 327.64 993.50 323.00 C993.86 318.96 993.87 314.95 995.00 311.70 C995.97 308.92 997.35 306.29 999.30 304.50 C1001.21 302.75 1003.61 301.97 1006.50 301.00 C1010.41 299.68 1016.09 298.46 1020.90 298.10 C1025.65 297.74 1030.45 298.32 1035.20 298.80 C1039.98 299.28 1044.73 300.17 1049.50 301.00 C1054.30 301.84 1059.27 302.44 1063.90 303.80 C1068.43 305.13 1074.83 310.31 1077.00 309.00 C1078.74 307.95 1077.67 304.08 1078.00 300.00 C1078.69 291.43 1079.24 274.27 1080.00 260.00 C1080.88 243.57 1081.44 221.09 1083.00 207.00 C1084.05 197.56 1084.53 189.06 1086.90 183.50 C1088.42 179.92 1090.28 177.71 1092.80 175.60 C1095.45 173.38 1099.24 171.31 1102.60 170.70 C1105.78 170.12 1108.57 171.31 1112.40 171.70 C1117.81 172.25 1126.13 173.67 1132.00 173.70 C1136.78 173.72 1141.68 172.75 1145.00 172.50 C1147.06 172.34 1147.96 171.90 1150.00 172.20 C1153.52 172.72 1159.43 174.90 1163.90 177.30 C1168.72 179.89 1172.78 184.03 1177.80 187.50 C1183.50 191.44 1190.20 195.57 1196.40 199.60 C1202.60 203.63 1208.74 207.94 1215.00 211.70 C1221.11 215.36 1227.29 218.64 1233.50 221.90 C1239.66 225.14 1247.30 228.27 1252.10 231.20 C1255.39 233.21 1256.69 235.41 1260.00 237.00 C1264.42 239.12 1271.33 239.58 1276.90 241.50 C1282.60 243.46 1288.14 246.50 1293.80 248.70 C1299.37 250.86 1304.82 252.47 1310.60 254.60 C1316.85 256.91 1323.56 259.91 1330.00 262.10 C1336.22 264.22 1342.41 265.75 1348.60 267.60 C1354.78 269.45 1360.90 271.50 1367.10 273.20 C1373.27 274.90 1379.49 276.40 1385.70 277.80 C1391.86 279.19 1399.10 280.34 1404.20 281.60 C1407.85 282.50 1409.86 283.31 1413.50 284.30 C1418.63 285.69 1425.94 287.67 1432.10 289.00 C1438.10 290.29 1445.49 291.35 1450.00 292.20 C1452.74 292.71 1453.47 292.80 1456.60 293.50 C1464.51 295.27 1484.28 300.94 1498.20 303.90 C1512.01 306.84 1525.89 309.30 1539.80 311.20 C1553.66 313.09 1569.38 313.93 1581.50 315.30 C1590.90 316.36 1600.47 319.23 1606.50 318.50 C1610.08 318.07 1612.71 318.26 1614.80 315.30 C1620.61 307.06 1615.93 269.50 1616.50 246.60" fill="none" stroke="#2222ff" stroke-width="2.30" stroke-linejoin="round" stroke-linecap="butt" stroke-dasharray="9 3.5 2.2 3.5"/>
<path d="M1617.40 246.60 L1617.40 390.00" fill="none" stroke="#2222ff" stroke-width="1.50" stroke-linejoin="round" stroke-linecap="butt"/>
<path d="M992.30 330.00 C992.47 323.67 992.55 316.80 992.80 311.00 C993.01 306.09 992.47 301.41 993.60 297.40 C994.60 293.86 996.22 289.89 998.60 288.00 C1000.69 286.34 1003.91 286.11 1006.50 285.90 C1008.94 285.70 1010.90 286.18 1013.70 286.60 C1017.67 287.19 1023.25 288.31 1028.00 289.50 C1032.82 290.71 1037.63 292.25 1042.40 293.80 C1047.19 295.35 1053.00 297.60 1056.70 298.80 C1059.02 299.55 1060.32 299.79 1062.40 300.50 C1064.99 301.38 1067.77 302.54 1071.00 303.80 C1075.19 305.43 1080.65 307.40 1085.40 309.50 C1090.22 311.63 1096.57 315.27 1099.70 316.50 C1101.16 317.07 1102.13 317.85 1103.00 317.50 C1103.94 317.13 1104.53 315.63 1105.00 314.00 C1105.87 310.96 1105.32 305.86 1105.50 300.00 C1105.80 290.09 1106.11 275.72 1106.50 260.00 C1107.06 237.44 1107.63 203.81 1108.50 177.60 C1109.30 153.68 1109.32 121.48 1111.40 109.00 C1112.20 104.19 1112.74 100.98 1114.30 99.20 C1115.27 98.09 1116.58 97.46 1117.90 97.60 C1119.74 97.79 1122.00 99.91 1124.10 102.10 C1127.29 105.42 1130.66 112.62 1133.90 116.80 C1136.55 120.22 1139.06 122.89 1141.80 125.60 C1144.43 128.20 1147.08 130.17 1150.00 132.80 C1153.44 135.89 1157.43 140.25 1161.10 143.00 C1164.22 145.33 1168.37 146.34 1170.40 148.60 C1171.99 150.36 1171.72 153.38 1173.20 154.60 C1174.59 155.74 1176.90 154.93 1178.80 156.00 C1181.51 157.53 1184.14 161.82 1187.10 164.30 C1190.01 166.74 1193.30 168.63 1196.40 170.80 C1199.50 172.97 1202.64 175.00 1205.70 177.30 C1208.84 179.66 1211.91 182.31 1215.00 184.80 C1218.07 187.28 1221.12 189.74 1224.20 192.20 C1227.29 194.67 1230.40 197.13 1233.50 199.60 C1236.60 202.07 1239.70 204.52 1242.80 207.00 C1245.90 209.49 1249.09 212.24 1252.10 214.50 C1254.80 216.53 1256.77 218.17 1260.00 220.00 C1264.48 222.54 1271.29 224.95 1276.90 227.60 C1282.56 230.28 1288.16 233.29 1293.80 236.00 C1299.39 238.69 1304.76 241.29 1310.60 243.80 C1316.80 246.47 1323.56 249.20 1330.00 251.50 C1336.23 253.72 1342.42 255.34 1348.60 257.40 C1354.79 259.47 1360.90 261.88 1367.10 263.90 C1373.27 265.91 1379.47 267.94 1385.70 269.50 C1391.84 271.03 1398.04 271.82 1404.20 273.20 C1410.41 274.59 1416.01 276.15 1422.80 277.80 C1431.00 279.79 1444.03 282.73 1450.00 284.30 C1452.96 285.08 1453.46 285.28 1456.60 286.20 C1464.50 288.53 1485.26 295.48 1498.20 298.70 C1509.28 301.46 1518.95 303.45 1529.40 304.90 C1539.78 306.34 1550.86 307.01 1560.70 307.40 C1569.47 307.75 1578.78 306.39 1585.60 307.40 C1590.54 308.13 1594.36 308.97 1598.10 311.20 C1602.08 313.57 1605.48 318.27 1608.60 321.60 C1611.29 324.47 1613.40 327.13 1615.80 329.90" fill="none" stroke="#ff8000" stroke-width="2.00" stroke-linejoin="round" stroke-linecap="butt"/>
<path d="M992.30 352.00 C992.47 347.33 992.60 342.75 992.80 338.00 C993.00 333.09 993.08 327.64 993.50 323.00 C993.86 318.96 993.87 314.95 995.00 311.70 C995.97 308.92 997.35 306.29 999.30 304.50 C1001.21 302.75 1003.61 301.97 1006.50 301.00 C1010.41 299.68 1016.09 298.46 1020.90 298.10 C1025.65 297.74 1030.45 298.32 1035.20 298.80 C1039.98 299.28 1044.73 300.17 1049.50 301.00 C1054.30 301.84 1059.27 302.44 1063.90 303.80 C1068.43 305.13 1073.06 307.93 1077.00 309.00 C1080.06 309.83 1082.28 309.45 1085.40 310.30 C1089.59 311.44 1094.92 314.10 1099.70 316.00 C1104.49 317.90 1109.24 320.26 1114.10 321.70 C1118.81 323.10 1125.58 324.88 1128.40 324.60 C1129.64 324.48 1130.33 324.24 1131.00 323.50 C1131.96 322.44 1132.24 320.85 1132.70 318.00 C1134.16 308.94 1133.38 279.72 1133.90 260.00 C1134.44 239.48 1134.81 216.82 1135.90 197.20 C1136.87 179.84 1138.17 159.46 1139.80 148.20 C1140.67 142.19 1140.70 137.04 1142.70 134.50 C1143.96 132.90 1146.38 131.99 1147.70 132.10 C1148.64 132.18 1149.04 132.86 1150.00 133.70 C1152.14 135.57 1156.24 140.38 1159.30 143.90 C1162.44 147.51 1165.29 152.04 1168.60 155.10 C1171.51 157.79 1174.79 159.21 1177.80 161.60 C1180.96 164.12 1183.89 167.53 1187.10 169.90 C1190.10 172.11 1193.37 173.39 1196.40 175.50 C1199.57 177.70 1202.60 180.43 1205.70 182.90 C1208.80 185.37 1211.91 187.83 1215.00 190.30 C1218.08 192.76 1221.09 195.36 1224.20 197.70 C1227.25 199.99 1230.36 202.16 1233.50 204.20 C1236.57 206.19 1239.77 207.69 1242.80 209.80 C1245.97 212.00 1249.08 214.99 1252.10 217.20 C1254.80 219.17 1256.97 220.14 1260.00 222.50 C1264.68 226.15 1271.30 232.52 1276.90 237.70 C1282.57 242.95 1288.17 248.44 1293.80 253.80 C1299.41 259.14 1304.69 264.61 1310.60 269.80 C1316.73 275.19 1323.62 280.27 1330.00 285.50 C1336.28 290.64 1342.29 296.19 1348.60 300.90 C1354.66 305.42 1360.81 309.61 1367.10 313.30 C1373.19 316.88 1379.49 319.71 1385.70 322.80 C1391.86 325.87 1397.98 329.04 1404.20 331.80 C1410.34 334.53 1415.93 337.08 1422.80 339.30 C1430.92 341.92 1440.85 344.79 1450.00 346.00 C1459.05 347.20 1467.97 346.50 1477.40 346.60 C1487.46 346.71 1498.22 347.30 1508.60 346.60 C1519.02 345.90 1529.46 344.46 1539.80 342.40 C1550.29 340.31 1561.89 337.58 1571.10 334.10 C1578.91 331.15 1585.51 327.65 1591.90 323.70 C1597.95 319.96 1604.35 315.18 1608.60 311.20 C1611.70 308.30 1613.40 305.60 1615.80 302.80" fill="none" stroke="#ff8000" stroke-width="2.00" stroke-linejoin="round" stroke-linecap="butt"/>
<path d="M1617.40 235.20 L1617.40 340.00" fill="none" stroke="#ff8000" stroke-width="1.50" stroke-linejoin="round" stroke-linecap="butt"/>
<path d="M992.30 330.00 C992.47 323.67 992.55 316.80 992.80 311.00 C993.01 306.09 992.47 301.41 993.60 297.40 C994.60 293.86 996.22 289.89 998.60 288.00 C1000.69 286.34 1003.91 286.11 1006.50 285.90 C1008.94 285.70 1010.90 286.18 1013.70 286.60 C1017.67 287.19 1023.25 288.31 1028.00 289.50 C1032.82 290.71 1037.63 292.25 1042.40 293.80 C1047.19 295.35 1053.00 297.60 1056.70 298.80 C1059.02 299.55 1060.32 299.79 1062.40 300.50 C1064.99 301.38 1067.77 302.54 1071.00 303.80 C1075.19 305.43 1080.75 306.99 1085.40 309.50 C1090.34 312.17 1095.45 317.06 1099.70 319.60 C1102.85 321.49 1105.16 322.73 1108.30 323.90 C1111.79 325.20 1117.35 327.22 1119.80 326.80 C1121.08 326.58 1121.88 326.00 1122.50 325.00 C1123.41 323.53 1123.10 321.47 1123.40 318.00 C1124.27 308.04 1125.19 279.72 1126.10 260.00 C1127.05 239.48 1127.68 216.16 1129.00 197.20 C1130.09 181.47 1130.84 161.76 1133.00 154.10 C1133.84 151.11 1134.58 149.85 1135.90 148.20 C1137.19 146.59 1138.97 144.44 1140.80 144.30 C1142.86 144.14 1145.98 147.58 1147.70 148.20 C1148.64 148.53 1148.98 148.09 1150.00 148.60 C1153.39 150.30 1162.37 160.45 1168.60 166.20 C1174.74 171.88 1180.73 178.00 1187.10 182.90 C1193.11 187.53 1199.44 191.24 1205.70 195.00 C1211.81 198.66 1218.02 201.80 1224.20 205.20 C1230.39 208.60 1236.63 211.87 1242.80 215.40 C1249.03 218.97 1255.53 222.78 1261.40 226.50 C1266.85 229.95 1271.55 233.64 1276.90 236.90 C1282.34 240.21 1288.09 243.50 1293.80 246.20 C1299.33 248.81 1304.79 250.65 1310.60 252.90 C1316.82 255.31 1323.56 258.02 1330.00 260.20 C1336.23 262.31 1342.41 263.95 1348.60 265.80 C1354.77 267.65 1360.91 269.60 1367.10 271.30 C1373.27 273.00 1379.66 274.57 1385.70 276.00 C1391.41 277.35 1398.89 278.43 1402.40 279.70 C1404.13 280.33 1404.84 280.78 1406.10 281.60 C1407.60 282.57 1408.87 284.33 1410.70 285.30 C1412.81 286.42 1415.28 287.07 1418.20 287.60 C1422.09 288.31 1427.18 288.03 1432.10 288.50 C1437.70 289.04 1443.46 289.44 1450.00 290.80 C1458.22 292.50 1467.29 295.98 1477.40 298.70 C1489.80 302.04 1505.04 306.66 1519.00 309.10 C1532.81 311.51 1547.80 312.24 1560.70 313.30 C1571.84 314.22 1583.31 312.97 1591.90 315.30 C1598.55 317.10 1604.49 320.12 1608.60 323.70 C1611.98 326.64 1613.40 330.63 1615.80 334.10" fill="none" stroke="#00cc00" stroke-width="2.00" stroke-linejoin="round" stroke-linecap="butt"/>
<path d="M992.30 352.00 C992.47 347.33 992.60 342.75 992.80 338.00 C993.00 333.09 993.08 327.64 993.50 323.00 C993.86 318.96 993.87 314.95 995.00 311.70 C995.97 308.92 997.35 306.29 999.30 304.50 C1001.21 302.75 1003.61 301.97 1006.50 301.00 C1010.41 299.68 1016.09 298.46 1020.90 298.10 C1025.65 297.74 1030.45 298.32 1035.20 298.80 C1039.98 299.28 1044.73 300.17 1049.50 301.00 C1054.30 301.84 1059.27 302.44 1063.90 303.80 C1068.43 305.13 1073.06 307.93 1077.00 309.00 C1080.06 309.83 1082.28 309.45 1085.40 310.30 C1089.59 311.44 1094.92 314.10 1099.70 316.00 C1104.49 317.90 1109.24 320.26 1114.10 321.70 C1118.81 323.10 1123.65 323.52 1128.40 324.60 C1133.18 325.69 1137.91 327.12 1142.70 328.20 C1147.48 329.28 1152.57 330.23 1157.10 331.10 C1161.14 331.88 1165.06 332.42 1168.60 333.20 C1171.69 333.88 1175.28 335.69 1177.20 335.40 C1178.26 335.24 1178.90 334.95 1179.50 334.00 C1180.87 331.84 1180.51 326.30 1181.00 320.00 C1182.01 306.98 1183.03 274.64 1183.90 260.00 C1184.40 251.54 1184.82 247.24 1185.30 240.00 C1185.88 231.38 1186.20 220.13 1187.10 211.70 C1187.83 204.83 1188.65 198.60 1189.90 193.10 C1190.92 188.59 1191.42 183.47 1193.60 181.00 C1195.23 179.15 1197.98 178.34 1200.10 178.10 C1202.00 177.88 1203.65 178.51 1205.70 179.20 C1208.47 180.14 1211.98 182.00 1215.00 183.80 C1218.15 185.68 1221.16 188.02 1224.20 190.30 C1227.33 192.64 1230.44 195.11 1233.50 197.70 C1236.64 200.36 1239.74 203.19 1242.80 206.10 C1245.94 209.08 1248.96 212.43 1252.10 215.40 C1255.16 218.29 1257.91 220.57 1261.40 223.70 C1265.92 227.75 1271.65 232.83 1276.90 237.70 C1282.45 242.84 1288.17 248.44 1293.80 253.80 C1299.41 259.14 1304.69 264.61 1310.60 269.80 C1316.73 275.19 1323.52 280.60 1330.00 285.50 C1336.19 290.17 1342.38 294.33 1348.60 298.60 C1354.75 302.83 1360.81 307.31 1367.10 311.00 C1373.19 314.58 1379.49 317.41 1385.70 320.50 C1391.86 323.57 1397.98 326.74 1404.20 329.50 C1410.34 332.23 1415.93 334.78 1422.80 337.00 C1430.92 339.62 1440.85 342.28 1450.00 343.70 C1459.06 345.10 1467.96 345.19 1477.40 345.50 C1487.46 345.83 1498.22 346.18 1508.60 345.50 C1519.02 344.82 1529.46 343.46 1539.80 341.40 C1550.29 339.31 1561.84 336.29 1571.10 333.00 C1578.86 330.24 1585.46 327.13 1591.90 323.70 C1597.89 320.52 1604.23 316.26 1608.60 313.30 C1611.54 311.30 1613.40 309.77 1615.80 308.00" fill="none" stroke="#00cc00" stroke-width="2.00" stroke-linejoin="round" stroke-linecap="butt"/>
<path d="M1617.40 239.30 L1617.40 398.60" fill="none" stroke="#00cc00" stroke-width="1.50" stroke-linejoin="round" stroke-linecap="butt"/>
<path d="M137.30 845.00 C138.53 846.67 139.67 848.30 141.00 850.00 C142.45 851.86 143.98 853.47 145.70 855.70 C148.02 858.70 150.78 863.83 153.50 866.50 C155.60 868.55 158.02 869.79 160.00 871.00 C161.55 871.95 163.35 873.86 164.30 873.30 C166.09 872.24 164.36 863.85 164.50 856.00 C164.79 839.29 165.56 799.47 166.30 777.60 C166.83 761.86 167.54 747.48 168.10 737.00 C168.45 730.38 168.60 725.81 169.10 720.80 C169.54 716.44 169.81 712.20 170.80 708.60 C171.63 705.56 172.50 701.91 174.20 700.50 C175.46 699.46 177.20 699.43 178.90 699.50 C180.95 699.58 183.35 700.93 185.60 701.50 C187.85 702.07 189.90 702.67 192.40 702.90 C195.42 703.18 199.47 702.62 202.50 702.70 C204.99 702.77 207.06 702.79 209.30 703.20 C211.56 703.62 213.84 704.15 216.00 705.20 C218.36 706.34 220.57 708.32 222.80 710.00 C225.07 711.71 227.48 713.38 229.50 715.40 C231.52 717.42 233.07 719.94 234.90 722.10 C236.68 724.20 238.18 725.99 240.30 728.20 C243.04 731.05 246.90 734.17 250.10 737.60 C253.55 741.29 256.69 746.07 260.20 749.70 C263.47 753.08 266.69 755.40 270.40 758.80 C274.97 762.98 280.45 768.27 285.50 773.00 C290.55 777.74 295.05 782.79 300.70 787.20 C306.79 791.95 315.12 796.43 321.00 800.30 C325.57 803.30 329.22 805.78 333.10 808.40 C336.70 810.84 339.80 813.00 343.50 815.50 C347.70 818.33 352.44 821.72 357.00 824.50 C361.45 827.21 365.98 829.57 370.50 832.00 C374.98 834.41 379.48 836.74 384.00 839.00 C388.48 841.24 392.76 843.34 397.50 845.50 C402.65 847.85 408.32 850.18 413.80 852.50 C419.35 854.85 424.95 857.41 430.60 859.50 C436.18 861.57 441.85 863.26 447.50 865.00 C453.12 866.73 458.77 868.23 464.40 869.90 C470.04 871.57 475.50 873.47 481.30 875.00 C487.35 876.59 493.41 877.88 500.00 879.20 C507.32 880.67 514.44 881.53 523.30 883.30 C535.19 885.67 551.03 889.49 564.90 892.60 C578.79 895.72 592.69 899.05 606.60 902.00 C620.46 904.94 635.29 908.35 648.20 910.30 C659.30 911.97 668.99 912.45 679.40 913.50 C689.82 914.55 700.27 915.73 710.70 916.60 C721.10 917.46 732.83 918.01 741.90 918.70 C748.93 919.24 754.37 919.77 760.60 920.30" fill="none" stroke="#2222ff" stroke-width="2.30" stroke-linejoin="round" stroke-linecap="butt" stroke-dasharray="9 3.5 2.2 3.5"/>
<path d="M136.90 1000.00 C137.00 997.60 137.06 995.70 137.20 992.80 C137.41 988.35 137.61 981.11 138.10 975.90 C138.52 971.38 139.23 967.36 139.80 963.30 C140.33 959.51 140.68 955.87 141.40 952.30 C142.09 948.84 142.97 945.38 144.00 942.20 C144.96 939.24 146.01 936.71 147.30 933.80 C148.75 930.53 150.47 926.67 152.40 923.60 C154.17 920.78 156.10 918.14 158.30 916.00 C160.36 913.99 162.64 912.27 165.10 911.00 C167.54 909.74 169.89 909.27 173.00 908.40 C177.34 907.18 184.45 905.68 188.80 904.70 C191.85 904.01 193.71 903.40 196.60 903.00 C200.11 902.52 203.97 902.39 208.40 902.30 C214.11 902.19 221.47 902.30 228.00 902.70 C234.54 903.10 240.64 903.95 247.60 904.70 C255.54 905.56 268.57 911.05 273.10 907.60 C276.98 904.64 274.81 895.55 276.00 889.00 C277.35 881.61 278.87 872.48 280.90 865.50 C282.59 859.67 283.77 853.55 286.80 849.80 C289.33 846.67 292.56 844.67 296.60 843.50 C301.84 841.98 309.01 843.39 316.20 843.60 C325.01 843.86 335.81 844.45 345.60 845.20 C355.41 845.95 365.96 846.65 375.00 848.10 C382.88 849.37 390.15 850.90 396.90 853.00 C402.98 854.89 408.15 857.67 413.80 859.80 C419.38 861.90 425.06 863.36 430.60 865.70 C436.30 868.11 441.84 871.42 447.50 874.10 C453.11 876.75 458.68 879.70 464.40 881.70 C469.95 883.64 475.55 884.36 481.30 886.00 C487.40 887.74 493.40 890.01 500.00 891.90 C507.31 893.99 514.44 895.44 523.30 897.90 C535.20 901.20 550.90 907.35 564.90 910.30 C578.67 913.21 592.68 914.72 606.60 915.60 C620.45 916.48 635.34 916.03 648.20 915.60 C659.35 915.23 669.07 915.22 679.40 913.50 C689.91 911.75 701.07 908.94 710.70 905.10 C719.70 901.51 728.37 896.63 735.60 891.60 C742.00 887.15 748.46 882.94 752.30 877.00 C756.10 871.12 757.22 863.01 758.60 856.20 C759.89 849.86 759.93 843.73 760.60 837.50" fill="none" stroke="#2222ff" stroke-width="2.30" stroke-linejoin="round" stroke-linecap="butt" stroke-dasharray="9 3.5 2.2 3.5"/>
<path d="M762.00 837.50 L762.00 985.00" fill="none" stroke="#2222ff" stroke-width="1.50" stroke-linejoin="round" stroke-linecap="butt"/>
<path d="M137.30 845.00 C137.60 830.00 137.91 814.56 138.20 800.00 C138.47 786.27 138.78 771.05 139.00 760.00 C139.16 752.19 139.28 746.60 139.40 740.00 C139.52 733.53 139.47 726.99 139.70 720.80 C139.92 714.98 140.19 709.07 140.70 703.90 C141.14 699.49 141.63 695.13 142.40 691.70 C142.98 689.11 143.62 687.21 144.50 685.00 C145.41 682.71 146.41 679.95 147.80 678.20 C148.96 676.74 150.10 675.71 151.90 674.90 C154.42 673.77 158.62 673.38 162.00 673.20 C165.36 673.02 168.75 673.26 172.10 673.80 C175.52 674.35 178.94 675.42 182.30 676.50 C185.70 677.59 189.08 678.80 192.40 680.30 C195.82 681.85 199.19 683.63 202.50 685.70 C205.97 687.87 209.37 690.45 212.70 693.10 C216.14 695.84 219.51 698.73 222.80 701.90 C226.25 705.23 229.83 709.40 232.90 712.70 C235.48 715.48 237.40 717.69 240.00 720.40 C243.04 723.57 246.77 727.01 250.10 730.50 C253.51 734.07 256.86 737.78 260.20 741.60 C263.63 745.54 266.92 750.00 270.40 753.80 C273.70 757.40 277.13 760.53 280.50 763.90 C283.87 767.27 287.15 770.91 290.60 774.00 C293.89 776.95 297.36 779.28 300.70 782.10 C304.13 785.00 307.47 788.30 310.90 791.20 C314.24 794.02 317.28 796.62 321.00 799.30 C325.24 802.35 331.03 805.64 335.10 808.40 C338.29 810.57 340.34 812.25 343.50 814.40 C347.44 817.09 352.47 820.37 357.00 823.20 C361.47 826.00 365.95 828.80 370.50 831.30 C374.96 833.75 379.50 835.85 384.00 838.10 C388.50 840.35 393.00 842.55 397.50 844.80 C402.00 847.05 406.05 849.42 411.00 851.60 C416.73 854.12 423.80 856.40 430.00 858.80 C435.96 861.10 441.72 863.41 447.50 865.70 C453.18 867.95 458.75 870.28 464.40 872.40 C470.01 874.51 475.49 876.59 481.30 878.40 C487.34 880.28 493.39 881.95 500.00 883.40 C507.31 885.00 514.43 885.74 523.30 887.40 C535.19 889.62 551.02 893.02 564.90 895.80 C578.79 898.58 592.71 901.33 606.60 904.10 C620.48 906.87 635.31 910.04 648.20 912.40 C659.33 914.44 668.97 916.20 679.40 917.60 C689.80 919.00 700.27 919.75 710.70 920.80 C721.11 921.85 732.88 922.30 741.90 923.90 C748.98 925.15 754.37 927.10 760.60 928.70" fill="none" stroke="#ff8000" stroke-width="2.00" stroke-linejoin="round" stroke-linecap="butt"/>
<path d="M136.90 1000.00 C137.00 997.60 137.06 995.70 137.20 992.80 C137.41 988.35 137.61 981.11 138.10 975.90 C138.52 971.38 139.23 967.36 139.80 963.30 C140.33 959.51 140.68 955.87 141.40 952.30 C142.09 948.84 142.97 945.38 144.00 942.20 C144.96 939.24 146.01 936.71 147.30 933.80 C148.75 930.53 150.47 926.67 152.40 923.60 C154.17 920.78 156.10 918.14 158.30 916.00 C160.36 913.99 162.64 912.27 165.10 911.00 C167.54 909.74 169.89 909.27 173.00 908.40 C177.34 907.18 184.45 905.68 188.80 904.70 C191.85 904.01 194.81 905.04 196.60 903.00 C199.69 899.47 197.22 886.24 198.60 879.20 C199.74 873.35 200.74 867.82 203.50 863.50 C206.10 859.43 210.31 856.59 214.30 853.70 C218.45 850.69 223.18 848.16 228.00 845.90 C232.97 843.57 238.60 841.62 243.70 840.00 C248.38 838.51 251.92 837.34 257.40 836.40 C265.30 835.05 276.99 834.17 286.80 834.00 C296.59 833.83 306.41 834.68 316.20 835.40 C326.01 836.12 335.82 837.04 345.60 838.30 C355.42 839.57 366.03 840.59 375.00 843.00 C382.96 845.14 390.08 848.74 396.90 851.40 C402.90 853.74 408.15 855.99 413.80 858.10 C419.39 860.19 425.04 861.78 430.60 864.00 C436.27 866.27 441.89 868.95 447.50 871.60 C453.16 874.28 458.72 877.45 464.40 880.00 C469.98 882.51 475.53 884.47 481.30 886.80 C487.38 889.26 493.40 891.83 500.00 894.40 C507.32 897.25 514.33 900.31 523.30 903.10 C535.08 906.76 550.95 910.90 564.90 913.50 C578.71 916.08 592.68 917.57 606.60 918.70 C620.45 919.83 635.34 920.61 648.20 920.30 C659.36 920.03 669.09 919.56 679.40 917.60 C689.93 915.60 700.42 912.21 710.70 908.30 C721.26 904.29 733.11 898.58 741.90 893.70 C748.78 889.88 753.70 886.03 759.60 882.20" fill="none" stroke="#ff8000" stroke-width="2.00" stroke-linejoin="round" stroke-linecap="butt"/>
<path d="M762.00 827.00 L762.00 940.00" fill="none" stroke="#ff8000" stroke-width="1.50" stroke-linejoin="round" stroke-linecap="butt"/>
<path d="M137.30 845.00 C138.53 846.67 139.67 848.30 141.00 850.00 C142.45 851.86 143.98 853.47 145.70 855.70 C148.02 858.70 150.34 863.29 153.50 866.50 C156.82 869.87 160.54 872.37 165.30 875.30 C171.66 879.21 181.29 883.45 188.80 887.00 C195.60 890.22 202.44 893.18 208.40 895.80 C213.37 897.98 218.24 899.67 222.10 901.70 C225.14 903.29 228.16 905.45 229.90 906.60 C230.79 907.19 231.25 908.15 231.90 908.00 C232.92 907.76 234.06 905.45 234.80 902.70 C236.76 895.40 235.26 871.56 235.80 860.00 C236.17 852.08 236.77 847.81 237.20 840.00 C237.81 828.96 238.30 811.04 238.80 800.00 C239.15 792.19 239.46 787.59 239.80 780.00 C240.25 769.96 240.64 754.58 241.20 745.00 C241.59 738.32 241.87 733.24 242.50 728.00 C243.05 723.45 243.49 718.22 244.60 715.30 C245.26 713.57 246.01 712.45 247.00 711.50 C247.88 710.65 248.89 709.61 250.10 709.70 C252.02 709.84 254.96 712.79 257.20 715.30 C260.13 718.59 262.28 724.30 265.30 728.50 C268.34 732.74 272.04 736.55 275.40 740.60 C278.77 744.65 282.07 748.87 285.50 752.80 C288.84 756.63 292.27 760.32 295.70 763.90 C299.04 767.38 302.39 770.76 305.80 774.00 C309.13 777.16 312.53 780.07 315.90 783.10 C319.27 786.13 322.23 789.31 326.00 792.20 C330.17 795.41 336.94 799.01 340.00 801.30 C341.61 802.50 341.91 803.07 343.50 804.30 C346.50 806.63 352.45 810.84 357.00 813.80 C361.45 816.69 366.00 819.20 370.50 821.90 C375.00 824.60 379.47 827.40 384.00 830.00 C388.48 832.57 392.98 835.04 397.50 837.40 C401.98 839.74 406.48 841.96 411.00 844.10 C415.48 846.22 420.88 848.55 424.50 850.20 C426.93 851.31 428.03 851.96 430.60 853.00 C434.80 854.69 441.87 856.92 447.50 858.90 C453.14 860.88 458.79 862.79 464.40 864.90 C470.05 867.02 475.46 869.69 481.30 871.60 C487.32 873.57 493.40 874.97 500.00 876.50 C507.32 878.20 514.44 879.20 523.30 881.20 C535.20 883.89 551.01 888.30 564.90 891.60 C578.77 894.90 592.69 898.05 606.60 901.00 C620.46 903.94 635.31 907.02 648.20 909.30 C659.32 911.26 668.98 912.72 679.40 914.10 C689.81 915.48 700.27 916.48 710.70 917.60 C721.11 918.72 732.89 919.10 741.90 920.80 C748.99 922.14 754.37 924.27 760.60 926.00" fill="none" stroke="#00cc00" stroke-width="2.00" stroke-linejoin="round" stroke-linecap="butt"/>
<path d="M136.90 1000.00 C137.00 997.60 137.06 995.70 137.20 992.80 C137.41 988.35 137.61 981.11 138.10 975.90 C138.52 971.38 139.23 967.36 139.80 963.30 C140.33 959.51 140.68 955.87 141.40 952.30 C142.09 948.84 142.97 945.38 144.00 942.20 C144.96 939.24 146.01 936.71 147.30 933.80 C148.75 930.53 150.47 926.67 152.40 923.60 C154.17 920.78 156.10 918.14 158.30 916.00 C160.36 913.99 162.64 912.27 165.10 911.00 C167.54 909.74 169.89 909.27 173.00 908.40 C177.34 907.18 184.45 905.68 188.80 904.70 C191.85 904.01 193.71 903.40 196.60 903.00 C200.11 902.52 203.97 902.39 208.40 902.30 C214.11 902.19 221.47 902.30 228.00 902.70 C234.54 903.10 240.64 903.95 247.60 904.70 C255.54 905.56 264.03 906.69 273.10 907.60 C283.45 908.64 294.86 909.28 306.40 910.50 C318.95 911.83 332.89 913.72 345.60 915.40 C357.65 916.99 371.77 919.34 380.80 920.30 C386.41 920.89 391.40 922.18 394.50 921.30 C396.36 920.77 397.55 919.87 398.50 918.40 C399.76 916.47 399.75 913.65 400.30 910.00 C401.30 903.37 401.34 890.19 402.80 881.70 C404.03 874.57 405.48 867.27 407.80 862.30 C409.46 858.73 411.38 855.38 413.80 853.90 C415.76 852.70 418.34 852.88 420.50 852.90 C422.53 852.92 424.10 853.26 426.40 853.90 C429.87 854.87 434.60 857.00 439.10 858.90 C444.33 861.11 450.32 863.84 455.90 866.50 C461.55 869.20 467.14 872.30 472.80 875.00 C478.40 877.67 484.74 880.48 489.70 882.60 C493.54 884.25 495.83 885.34 500.00 886.80 C506.16 888.96 514.42 891.05 523.30 893.70 C535.17 897.24 550.93 902.89 564.90 906.20 C578.70 909.47 592.66 911.93 606.60 913.50 C620.43 915.05 635.33 915.50 648.20 915.60 C659.34 915.68 669.08 916.03 679.40 914.50 C689.91 912.94 700.38 909.62 710.70 906.20 C721.22 902.71 732.90 896.82 741.90 893.70 C748.57 891.39 753.70 890.23 759.60 888.50" fill="none" stroke="#00cc00" stroke-width="2.00" stroke-linejoin="round" stroke-linecap="butt"/>
<path d="M762.00 828.10 L762.00 988.40" fill="none" stroke="#00cc00" stroke-width="1.50" stroke-linejoin="round" stroke-linecap="butt"/>
<path d="M992.30 856.00 C993.53 860.83 994.44 865.48 996.00 870.50 C997.75 876.13 1001.26 883.97 1002.50 888.10 C1003.16 890.28 1003.36 893.24 1003.70 893.20 C1005.05 893.05 1004.26 837.87 1004.80 809.70 C1005.35 780.82 1005.01 739.21 1007.00 722.00 C1007.84 714.71 1007.99 707.51 1010.20 706.60 C1011.70 705.98 1013.67 709.21 1016.30 710.60 C1020.47 712.80 1027.86 714.23 1033.30 717.60 C1039.42 721.39 1044.94 726.66 1050.80 732.90 C1058.10 740.67 1065.38 752.24 1072.80 761.50 C1080.02 770.52 1087.39 779.04 1094.70 787.80 C1102.02 796.57 1109.19 805.88 1116.70 814.10 C1123.84 821.92 1131.09 829.38 1138.60 836.10 C1145.74 842.49 1153.19 848.06 1160.60 853.60 C1167.83 859.01 1175.58 864.14 1182.50 869.00 C1188.74 873.38 1195.25 877.71 1200.30 881.50 C1204.19 884.42 1206.99 887.04 1210.40 889.60 C1213.73 892.10 1217.13 894.33 1220.50 896.70 C1223.87 899.07 1227.18 901.58 1230.60 903.80 C1233.95 905.98 1237.39 907.95 1240.80 909.90 C1244.16 911.82 1247.54 913.55 1250.90 915.40 C1254.27 917.25 1257.62 919.21 1261.00 921.00 C1264.35 922.77 1267.72 924.42 1271.10 926.10 C1274.49 927.79 1277.91 929.41 1281.30 931.10 C1284.68 932.78 1288.14 934.72 1291.40 936.20 C1294.35 937.54 1296.18 938.44 1300.00 939.70 C1307.17 942.07 1320.26 945.79 1331.60 947.80 C1344.46 950.08 1359.40 950.95 1373.30 952.00 C1387.16 953.05 1398.64 953.65 1414.90 954.10 C1437.89 954.74 1472.43 954.09 1498.20 954.50 C1520.53 954.86 1541.98 955.41 1560.70 956.20 C1575.98 956.85 1592.23 958.46 1602.30 958.60 C1608.03 958.68 1611.30 958.33 1615.80 958.20" fill="none" stroke="#2222ff" stroke-width="2.30" stroke-linejoin="round" stroke-linecap="butt" stroke-dasharray="9 3.5 2.2 3.5"/>
<path d="M992.90 1022.25 C993.12 1019.33 993.13 1016.55 993.55 1013.50 C994.02 1010.11 994.90 1006.70 995.70 1002.85 C996.65 998.29 997.63 992.86 998.90 987.90 C1000.19 982.89 1001.64 977.49 1003.40 972.95 C1004.95 968.94 1006.63 965.19 1008.65 961.95 C1010.45 959.06 1012.46 956.60 1014.70 954.30 C1016.91 952.03 1019.64 949.97 1022.00 948.20 C1024.06 946.65 1025.82 945.45 1028.00 944.15 C1030.44 942.70 1033.29 941.26 1036.00 940.00 C1038.69 938.75 1040.96 937.62 1044.20 936.60 C1048.60 935.22 1054.83 933.97 1060.20 933.10 C1065.53 932.24 1071.62 931.84 1076.30 931.40 C1079.91 931.06 1082.39 930.65 1085.90 930.60 C1090.15 930.54 1095.10 931.39 1100.00 931.40 C1105.33 931.41 1109.81 930.60 1116.70 930.50 C1127.86 930.34 1155.25 931.53 1160.60 931.60 C1161.80 931.62 1162.10 932.09 1162.80 931.60 C1164.48 930.42 1165.62 924.04 1167.20 919.50 C1169.21 913.72 1170.47 903.96 1173.80 899.70 C1176.14 896.71 1178.74 895.43 1182.50 894.20 C1188.00 892.40 1195.91 892.94 1204.50 892.70 C1216.63 892.36 1233.99 892.31 1248.40 893.20 C1262.48 894.07 1276.18 895.74 1290.00 897.90 C1303.91 900.07 1317.81 902.76 1331.60 906.20 C1345.57 909.68 1359.33 915.22 1373.30 918.70 C1387.09 922.14 1400.97 924.91 1414.90 927.00 C1428.74 929.07 1442.69 930.33 1456.60 931.20 C1470.46 932.06 1484.34 932.55 1498.20 932.20 C1512.08 931.85 1527.06 931.65 1539.80 929.10 C1551.13 926.83 1561.30 923.28 1571.10 918.70 C1580.71 914.21 1591.41 909.06 1598.10 902.00 C1604.16 895.60 1607.82 887.31 1610.60 879.10 C1613.45 870.68 1613.73 859.29 1614.80 852.00 C1615.52 847.07 1615.93 843.73 1616.50 839.60" fill="none" stroke="#2222ff" stroke-width="2.30" stroke-linejoin="round" stroke-linecap="butt" stroke-dasharray="9 3.5 2.2 3.5"/>
<path d="M1617.40 839.60 L1617.40 1000.00" fill="none" stroke="#2222ff" stroke-width="1.50" stroke-linejoin="round" stroke-linecap="butt"/>
<path d="M992.30 856.00 C992.37 824.00 992.34 789.07 992.50 760.00 C992.63 735.80 992.43 707.26 993.10 693.50 C993.40 687.29 993.04 683.26 994.30 680.00 C995.15 677.81 996.65 675.32 998.00 675.10 C999.15 674.91 1000.47 676.26 1001.70 677.60 C1003.76 679.85 1005.54 684.96 1007.80 688.60 C1010.18 692.43 1012.32 695.95 1015.70 700.00 C1020.23 705.42 1027.19 711.19 1033.30 717.60 C1040.29 724.93 1050.29 737.98 1055.20 741.70 C1057.19 743.21 1058.11 742.67 1060.00 744.10 C1063.87 747.03 1070.25 754.90 1075.20 760.80 C1080.40 767.00 1085.34 773.92 1090.40 780.50 C1095.47 787.09 1100.47 793.89 1105.60 800.30 C1110.60 806.55 1115.74 812.42 1120.80 818.50 C1125.87 824.59 1130.80 831.09 1136.00 836.80 C1140.94 842.22 1146.07 847.13 1151.20 852.00 C1156.21 856.75 1161.33 861.15 1166.40 865.70 C1171.46 870.25 1177.14 875.95 1181.60 879.30 C1184.73 881.65 1187.20 882.55 1190.10 884.60 C1193.41 886.93 1196.91 890.00 1200.30 892.70 C1203.68 895.40 1207.03 898.10 1210.40 900.80 C1213.77 903.50 1217.13 906.20 1220.50 908.90 C1223.87 911.60 1227.18 914.46 1230.60 917.00 C1233.95 919.48 1237.41 921.65 1240.80 924.00 C1244.18 926.35 1247.53 928.73 1250.90 931.10 C1254.27 933.47 1257.59 935.98 1261.00 938.20 C1264.33 940.37 1267.65 942.58 1271.10 944.30 C1274.43 945.96 1277.86 947.38 1281.30 948.40 C1284.63 949.39 1288.16 949.89 1291.40 950.40 C1294.37 950.87 1296.97 951.14 1300.00 951.40 C1303.39 951.69 1306.03 951.87 1310.80 952.00 C1320.17 952.26 1337.20 951.88 1352.50 952.00 C1371.21 952.15 1392.60 952.67 1414.90 953.00 C1440.66 953.38 1472.42 953.72 1498.20 954.10 C1520.53 954.43 1541.98 955.09 1560.70 955.10 C1575.97 955.11 1593.18 956.49 1602.30 954.50 C1607.07 953.46 1610.45 952.28 1612.70 949.90 C1614.68 947.80 1614.77 944.37 1615.80 941.60" fill="none" stroke="#ff8000" stroke-width="2.00" stroke-linejoin="round" stroke-linecap="butt"/>
<path d="M992.60 1020.00 C992.70 1017.00 992.53 1014.21 992.90 1011.00 C993.33 1007.23 994.40 1002.98 995.30 998.80 C996.26 994.36 997.23 989.84 998.50 985.10 C999.89 979.90 1001.43 973.64 1003.40 968.90 C1005.06 964.90 1007.03 961.29 1009.10 958.30 C1010.84 955.78 1012.61 953.88 1014.70 951.90 C1016.89 949.83 1019.66 947.91 1022.00 946.20 C1024.07 944.68 1025.78 943.27 1028.00 942.10 C1030.41 940.83 1033.30 939.92 1036.00 939.00 C1038.70 938.08 1041.00 937.42 1044.20 936.60 C1048.63 935.47 1054.83 933.97 1060.20 933.10 C1065.53 932.24 1071.62 931.84 1076.30 931.40 C1079.91 931.06 1083.90 932.37 1085.90 930.60 C1088.07 928.67 1087.44 923.40 1088.20 919.50 C1089.04 915.18 1089.37 909.10 1090.70 905.80 C1091.56 903.68 1092.68 902.02 1093.90 901.00 C1094.82 900.24 1095.44 900.25 1096.90 899.70 C1100.58 898.30 1109.88 895.00 1116.70 893.20 C1123.76 891.34 1131.28 890.08 1138.60 888.80 C1145.91 887.52 1153.26 886.42 1160.60 885.50 C1167.90 884.59 1175.18 883.67 1182.50 883.30 C1189.82 882.93 1197.18 883.12 1204.50 883.30 C1211.81 883.48 1218.37 883.66 1226.40 884.40 C1236.29 885.31 1248.65 886.86 1259.40 888.80 C1269.84 890.69 1279.03 893.17 1290.00 895.80 C1302.82 898.87 1317.74 902.57 1331.60 906.20 C1345.51 909.84 1359.35 914.29 1373.30 917.60 C1387.12 920.88 1400.99 923.56 1414.90 926.00 C1428.76 928.43 1442.67 931.00 1456.60 932.20 C1470.44 933.39 1484.35 933.71 1498.20 933.20 C1512.08 932.68 1527.06 931.81 1539.80 929.10 C1551.12 926.69 1561.38 923.57 1571.10 918.70 C1580.81 913.83 1590.41 906.32 1598.10 899.90 C1604.60 894.47 1609.23 888.83 1614.80 883.30" fill="none" stroke="#ff8000" stroke-width="2.00" stroke-linejoin="round" stroke-linecap="butt"/>
<path d="M1617.40 816.70 L1617.40 950.00" fill="none" stroke="#ff8000" stroke-width="1.50" stroke-linejoin="round" stroke-linecap="butt"/>
<path d="M992.30 856.00 C993.53 860.83 994.44 865.48 996.00 870.50 C997.75 876.13 999.74 882.66 1002.50 888.10 C1005.15 893.33 1008.08 898.20 1012.10 902.60 C1016.47 907.38 1022.65 912.27 1028.10 915.40 C1032.85 918.13 1039.58 919.33 1042.60 921.00 C1044.13 921.85 1044.89 923.69 1045.80 923.40 C1047.25 922.95 1048.24 918.20 1049.00 913.80 C1050.54 904.86 1049.51 885.09 1049.80 872.10 C1050.05 860.70 1050.30 851.99 1050.60 840.00 C1050.98 824.70 1051.19 805.91 1051.90 787.80 C1052.67 768.13 1052.85 737.41 1055.20 726.30 C1056.11 721.98 1057.13 719.71 1058.50 717.60 C1059.47 716.10 1060.54 714.32 1061.80 714.30 C1063.45 714.28 1065.64 717.56 1067.60 719.80 C1070.10 722.67 1072.73 726.70 1075.20 730.40 C1077.80 734.28 1080.26 738.54 1082.80 742.60 C1085.33 746.64 1087.81 750.84 1090.40 754.70 C1092.88 758.39 1095.53 761.60 1098.00 765.30 C1100.60 769.18 1103.00 773.62 1105.60 777.50 C1108.07 781.20 1110.67 784.56 1113.20 788.10 C1115.74 791.66 1118.20 795.43 1120.80 798.80 C1123.27 802.01 1125.87 804.87 1128.40 807.90 C1130.93 810.93 1133.47 813.97 1136.00 817.00 C1138.53 820.03 1141.00 823.26 1143.60 826.10 C1146.07 828.81 1148.19 830.84 1151.20 833.70 C1155.36 837.65 1161.21 843.26 1166.40 847.40 C1171.35 851.35 1176.24 854.45 1181.60 858.10 C1187.48 862.10 1195.04 866.82 1200.30 870.40 C1204.20 873.06 1207.03 875.13 1210.40 877.50 C1213.77 879.87 1217.13 882.25 1220.50 884.60 C1223.86 886.95 1227.19 889.40 1230.60 891.60 C1233.96 893.76 1237.39 895.74 1240.80 897.70 C1244.16 899.64 1247.53 901.43 1250.90 903.30 C1254.27 905.17 1257.61 907.12 1261.00 908.90 C1264.35 910.65 1267.73 912.22 1271.10 913.90 C1274.49 915.59 1277.91 917.31 1281.30 919.00 C1284.67 920.68 1288.13 922.61 1291.40 924.00 C1294.35 925.25 1296.25 925.69 1300.00 927.10 C1307.24 929.82 1320.21 935.86 1331.60 939.50 C1344.42 943.59 1359.30 948.01 1373.30 949.90 C1387.07 951.76 1398.65 950.64 1414.90 950.90 C1437.89 951.27 1472.43 951.20 1498.20 951.60 C1520.53 951.94 1541.98 952.54 1560.70 953.00 C1575.97 953.37 1592.57 955.56 1602.30 954.10 C1607.78 953.28 1610.63 951.30 1614.80 949.90" fill="none" stroke="#00cc00" stroke-width="2.00" stroke-linejoin="round" stroke-linecap="butt"/>
<path d="M993.20 1024.50 C993.53 1021.67 993.73 1018.87 994.20 1016.00 C994.69 1013.01 995.40 1010.37 996.10 1006.90 C997.04 1002.28 998.03 995.84 999.30 990.70 C1000.49 985.91 1001.85 981.32 1003.40 977.00 C1004.84 972.98 1006.24 969.06 1008.20 965.60 C1010.05 962.33 1012.32 959.32 1014.70 956.70 C1016.94 954.23 1019.62 952.04 1022.00 950.20 C1024.04 948.62 1025.85 947.61 1028.00 946.20 C1030.47 944.57 1033.28 942.61 1036.00 941.00 C1038.68 939.41 1040.91 937.81 1044.20 936.60 C1048.56 934.99 1054.83 933.97 1060.20 933.10 C1065.53 932.24 1071.62 931.84 1076.30 931.40 C1079.91 931.06 1082.39 930.65 1085.90 930.60 C1090.15 930.54 1095.10 931.35 1100.00 931.40 C1105.33 931.46 1109.81 930.86 1116.70 930.80 C1127.86 930.70 1148.50 930.88 1160.60 931.60 C1169.17 932.11 1173.94 932.95 1182.50 933.80 C1194.61 935.00 1211.77 936.65 1226.40 938.10 C1241.03 939.55 1257.82 941.59 1270.30 942.50 C1279.55 943.17 1291.12 943.42 1294.50 943.60 C1295.40 943.65 1295.64 944.12 1296.20 943.70 C1298.45 942.02 1299.92 923.79 1302.50 916.60 C1304.33 911.51 1305.61 906.47 1308.70 904.10 C1311.39 902.03 1314.66 901.90 1319.10 902.00 C1327.09 902.18 1340.76 907.36 1352.50 910.30 C1365.61 913.58 1380.18 917.84 1394.10 920.80 C1407.91 923.73 1421.78 926.27 1435.70 928.00 C1449.55 929.73 1463.50 930.85 1477.40 931.20 C1491.27 931.55 1505.15 931.14 1519.00 930.10 C1532.92 929.05 1548.00 928.18 1560.70 924.90 C1572.06 921.97 1582.51 916.71 1591.90 912.40 C1599.94 908.71 1606.50 904.80 1613.80 901.00" fill="none" stroke="#00cc00" stroke-width="2.00" stroke-linejoin="round" stroke-linecap="butt"/>
<path d="M1617.40 833.30 L1617.40 1014.40" fill="none" stroke="#00cc00" stroke-width="1.50" stroke-linejoin="round" stroke-linecap="butt"/>
<rect x="418.3" y="17.5" width="385.3" height="127.8" fill="none" stroke="#666" stroke-width="1.2"/>
<line x1="435.7" y1="57.5" x2="549" y2="57.5" stroke="#2222ff" stroke-width="2.4" stroke-dasharray="9 3.5 2.2 3.5"/>
<line x1="435.7" y1="88.0" x2="549" y2="88.0" stroke="#ff8000" stroke-width="1.8"/>
<line x1="435.7" y1="118.0" x2="549" y2="118.0" stroke="#00cc00" stroke-width="1.8"/>
<text x="568.5" y="65.9" class="leg">EllipSys2D</text>
<text x="568.5" y="95.3" class="leg">HAM2D: 1Eq. Tran</text>
<text x="568.5" y="124.8" class="leg">HAM2D: 2Eq. Tran</text>
</svg>
</body></html>
